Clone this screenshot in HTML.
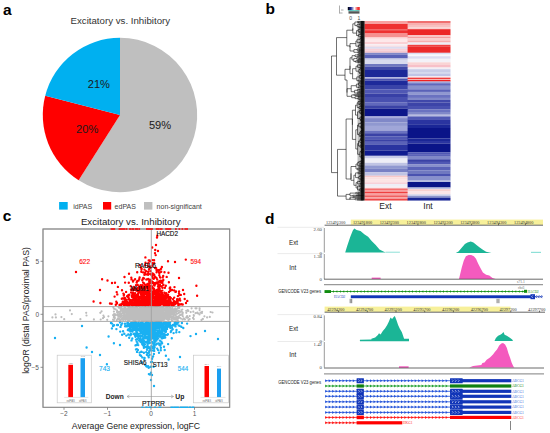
<!DOCTYPE html>
<html><head><meta charset="utf-8"><style>
html,body{margin:0;padding:0;background:#fff;}
svg{display:block;font-family:"Liberation Sans", sans-serif;}
</style></head><body>
<svg width="550" height="433" viewBox="0 0 550 433">
<rect width="550" height="433" fill="#fff"/>
<path d="M120.0,115.0 L120.00,37.80 A77.2,77.2 0 1 1 78.63,180.18 Z" fill="#bfbfbf"/>
<path d="M120.0,115.0 L78.63,180.18 A77.2,77.2 0 0 1 45.23,95.80 Z" fill="#ff0000"/>
<path d="M120.0,115.0 L45.23,95.80 A77.2,77.2 0 0 1 120.00,37.80 Z" fill="#00b0f0"/>
<text x="120.3" y="24.2" font-size="9.7" fill="#333" text-anchor="middle">Excitatory vs. Inhibitory</text>
<text x="98.9" y="88.3" font-size="11.1" fill="#1a1a1a" text-anchor="middle">21%</text>
<text x="87.2" y="133.4" font-size="11.1" fill="#1a1a1a" text-anchor="middle">20%</text>
<text x="160" y="129.2" font-size="11.1" fill="#1a1a1a" text-anchor="middle">59%</text>
<rect x="59.1" y="202" width="8.6" height="7.6" fill="#00b0f0"/>
<text x="73.2" y="208.6" font-size="7" fill="#404040">idPAS</text>
<rect x="103" y="202" width="8.2" height="7.6" fill="#ff0000"/>
<text x="114.6" y="208.6" font-size="7" fill="#404040">edPAS</text>
<rect x="144" y="202" width="8.4" height="7.6" fill="#bfbfbf"/>
<text x="156.6" y="208.6" font-size="7" fill="#404040">non-significant</text>
<rect x="364.5" y="21.0" width="43.69999999999999" height="3.05" fill="#f8a0a0"/>
<rect x="364.5" y="24.0" width="43.69999999999999" height="5.25" fill="#ee3030"/>
<rect x="364.5" y="29.2" width="43.69999999999999" height="1.85" fill="#f05050"/>
<rect x="364.5" y="31.0" width="43.69999999999999" height="2.55" fill="#ee3030"/>
<rect x="364.5" y="33.5" width="43.69999999999999" height="3.55" fill="#f59090"/>
<rect x="364.5" y="37.0" width="43.69999999999999" height="1.75" fill="#fcd0d0"/>
<rect x="364.5" y="38.7" width="43.69999999999999" height="3.35" fill="#fde8ea"/>
<rect x="364.5" y="42.0" width="43.69999999999999" height="2.05" fill="#fbd0d4"/>
<rect x="364.5" y="44.0" width="43.69999999999999" height="1.65" fill="#f8f0f4"/>
<rect x="364.5" y="45.6" width="43.69999999999999" height="1.15" fill="#fad8dc"/>
<rect x="364.5" y="46.7" width="43.69999999999999" height="2.15" fill="#dcdcf0"/>
<rect x="364.5" y="48.8" width="43.69999999999999" height="1.75" fill="#f8d0d8"/>
<rect x="364.5" y="50.5" width="43.69999999999999" height="2.35" fill="#f4c8d0"/>
<rect x="364.5" y="52.8" width="43.69999999999999" height="1.75" fill="#8088c8"/>
<rect x="364.5" y="54.5" width="43.69999999999999" height="3.55" fill="#5a62b8"/>
<rect x="364.5" y="58.0" width="43.69999999999999" height="1.75" fill="#b8bce0"/>
<rect x="364.5" y="59.7" width="43.69999999999999" height="4.35" fill="#d8daee"/>
<rect x="364.5" y="64.0" width="43.69999999999999" height="2.65" fill="#7078c0"/>
<rect x="364.5" y="66.6" width="43.69999999999999" height="2.65" fill="#4048a8"/>
<rect x="364.5" y="69.2" width="43.69999999999999" height="8.05" fill="#1c2898"/>
<rect x="364.5" y="77.2" width="43.69999999999999" height="1.45" fill="#b0b4e0"/>
<rect x="364.5" y="78.6" width="43.69999999999999" height="2.05" fill="#4a52b0"/>
<rect x="364.5" y="80.6" width="43.69999999999999" height="4.45" fill="#1e2a9a"/>
<rect x="364.5" y="85.0" width="43.69999999999999" height="4.35" fill="#3a44a8"/>
<rect x="364.5" y="89.3" width="43.69999999999999" height="4.35" fill="#5058b4"/>
<rect x="364.5" y="93.6" width="43.69999999999999" height="3.45" fill="#3840a6"/>
<rect x="364.5" y="97.0" width="43.69999999999999" height="5.65" fill="#4850b0"/>
<rect x="364.5" y="102.6" width="43.69999999999999" height="2.65" fill="#6068bc"/>
<rect x="364.5" y="105.2" width="43.69999999999999" height="3.45" fill="#3a42a6"/>
<rect x="364.5" y="108.6" width="43.69999999999999" height="7.85" fill="#0c1689"/>
<rect x="364.5" y="116.4" width="43.69999999999999" height="1.75" fill="#a8acdc"/>
<rect x="364.5" y="118.1" width="43.69999999999999" height="4.45" fill="#8088c8"/>
<rect x="364.5" y="122.5" width="43.69999999999999" height="3.45" fill="#9098d0"/>
<rect x="364.5" y="125.9" width="43.69999999999999" height="4.75" fill="#a0a6d8"/>
<rect x="364.5" y="130.6" width="43.69999999999999" height="2.65" fill="#6a72c0"/>
<rect x="364.5" y="133.2" width="43.69999999999999" height="3.45" fill="#3a42a6"/>
<rect x="364.5" y="136.6" width="43.69999999999999" height="2.65" fill="#5058b4"/>
<rect x="364.5" y="139.2" width="43.69999999999999" height="2.65" fill="#3a42a6"/>
<rect x="364.5" y="141.8" width="43.69999999999999" height="2.65" fill="#5a62b8"/>
<rect x="364.5" y="144.4" width="43.69999999999999" height="6.15" fill="#2a34a0"/>
<rect x="364.5" y="150.5" width="43.69999999999999" height="5.35" fill="#101c90"/>
<rect x="364.5" y="155.8" width="43.69999999999999" height="2.75" fill="#c8cce8"/>
<rect x="364.5" y="158.5" width="43.69999999999999" height="4.35" fill="#eeeef6"/>
<rect x="364.5" y="162.8" width="43.69999999999999" height="2.65" fill="#c0c4e4"/>
<rect x="364.5" y="165.4" width="43.69999999999999" height="3.45" fill="#9098d0"/>
<rect x="364.5" y="168.8" width="43.69999999999999" height="3.55" fill="#7880c4"/>
<rect x="364.5" y="172.3" width="43.69999999999999" height="3.45" fill="#c0c4e4"/>
<rect x="364.5" y="175.7" width="43.69999999999999" height="1.45" fill="#f8c8c8"/>
<rect x="364.5" y="177.1" width="43.69999999999999" height="2.45" fill="#fae0e0"/>
<rect x="364.5" y="179.5" width="43.69999999999999" height="2.85" fill="#fce4e4"/>
<rect x="364.5" y="182.3" width="43.69999999999999" height="1.75" fill="#f8d0d8"/>
<rect x="364.5" y="184.0" width="43.69999999999999" height="2.65" fill="#eeeef6"/>
<rect x="364.5" y="186.6" width="43.69999999999999" height="1.85" fill="#f8e8ec"/>
<rect x="364.5" y="188.4" width="43.69999999999999" height="1.65" fill="#f47070"/>
<rect x="364.5" y="190.0" width="43.69999999999999" height="1.85" fill="#f8a0a0"/>
<rect x="364.5" y="191.8" width="43.69999999999999" height="1.75" fill="#ee4040"/>
<rect x="364.5" y="193.5" width="43.69999999999999" height="1.85" fill="#f8a0a0"/>
<rect x="364.5" y="195.3" width="43.69999999999999" height="1.75" fill="#f06060"/>
<rect x="364.5" y="197.0" width="43.69999999999999" height="1.75" fill="#f8a8a8"/>
<rect x="364.5" y="198.7" width="43.69999999999999" height="1.85" fill="#ee4848"/>
<rect x="407.6" y="21.0" width="42.89999999999998" height="2.05" fill="#f07070"/>
<rect x="407.6" y="23.0" width="42.89999999999998" height="2.05" fill="#f8b0b0"/>
<rect x="407.6" y="25.0" width="42.89999999999998" height="2.55" fill="#f8c0c0"/>
<rect x="407.6" y="27.5" width="42.89999999999998" height="1.75" fill="#fad0d0"/>
<rect x="407.6" y="29.2" width="42.89999999999998" height="6.15" fill="#ec2828"/>
<rect x="407.6" y="35.3" width="42.89999999999998" height="1.35" fill="#fad0d0"/>
<rect x="407.6" y="36.6" width="42.89999999999998" height="1.85" fill="#f4a0a0"/>
<rect x="407.6" y="38.4" width="42.89999999999998" height="2.15" fill="#fbd0d0"/>
<rect x="407.6" y="40.5" width="42.89999999999998" height="2.05" fill="#f6b0b0"/>
<rect x="407.6" y="42.5" width="42.89999999999998" height="2.35" fill="#eeeef6"/>
<rect x="407.6" y="44.8" width="42.89999999999998" height="1.95" fill="#f04040"/>
<rect x="407.6" y="46.7" width="42.89999999999998" height="6.15" fill="#ec2a2a"/>
<rect x="407.6" y="52.8" width="42.89999999999998" height="1.75" fill="#dcdcf0"/>
<rect x="407.6" y="54.5" width="42.89999999999998" height="1.75" fill="#f8f8fc"/>
<rect x="407.6" y="56.2" width="42.89999999999998" height="2.65" fill="#dcdcf0"/>
<rect x="407.6" y="58.8" width="42.89999999999998" height="3.55" fill="#f4f2f8"/>
<rect x="407.6" y="62.3" width="42.89999999999998" height="2.65" fill="#fad4d4"/>
<rect x="407.6" y="64.9" width="42.89999999999998" height="2.65" fill="#f8c0c8"/>
<rect x="407.6" y="67.5" width="42.89999999999998" height="1.75" fill="#f4eef4"/>
<rect x="407.6" y="69.2" width="42.89999999999998" height="3.45" fill="#c8cce8"/>
<rect x="407.6" y="72.6" width="42.89999999999998" height="1.15" fill="#d0d4ec"/>
<rect x="407.6" y="73.7" width="42.89999999999998" height="2.65" fill="#c0c4e6"/>
<rect x="407.6" y="76.3" width="42.89999999999998" height="1.45" fill="#f8e8ee"/>
<rect x="407.6" y="77.7" width="42.89999999999998" height="1.25" fill="#f02020"/>
<rect x="407.6" y="78.9" width="42.89999999999998" height="0.95" fill="#f8d8d8"/>
<rect x="407.6" y="79.8" width="42.89999999999998" height="1.75" fill="#f02020"/>
<rect x="407.6" y="81.5" width="42.89999999999998" height="1.75" fill="#a0a6d8"/>
<rect x="407.6" y="83.2" width="42.89999999999998" height="2.65" fill="#6068bc"/>
<rect x="407.6" y="85.8" width="42.89999999999998" height="3.55" fill="#8890cc"/>
<rect x="407.6" y="89.3" width="42.89999999999998" height="2.65" fill="#5a62b8"/>
<rect x="407.6" y="91.9" width="42.89999999999998" height="2.65" fill="#9098d0"/>
<rect x="407.6" y="94.5" width="42.89999999999998" height="3.45" fill="#6a72c0"/>
<rect x="407.6" y="97.9" width="42.89999999999998" height="2.15" fill="#8088c8"/>
<rect x="407.6" y="100.0" width="42.89999999999998" height="2.65" fill="#4048aa"/>
<rect x="407.6" y="102.6" width="42.89999999999998" height="3.45" fill="#3c44a8"/>
<rect x="407.6" y="106.0" width="42.89999999999998" height="3.55" fill="#4850b0"/>
<rect x="407.6" y="109.5" width="42.89999999999998" height="2.55" fill="#6a72c0"/>
<rect x="407.6" y="112.0" width="42.89999999999998" height="2.75" fill="#8088c8"/>
<rect x="407.6" y="114.7" width="42.89999999999998" height="1.75" fill="#b8bce0"/>
<rect x="407.6" y="116.4" width="42.89999999999998" height="3.55" fill="#5058b4"/>
<rect x="407.6" y="119.9" width="42.89999999999998" height="4.35" fill="#2a34a0"/>
<rect x="407.6" y="124.2" width="42.89999999999998" height="3.85" fill="#1a2696"/>
<rect x="407.6" y="128.0" width="42.89999999999998" height="10.45" fill="#0a1488"/>
<rect x="407.6" y="138.4" width="42.89999999999998" height="2.65" fill="#1a2696"/>
<rect x="407.6" y="141.0" width="42.89999999999998" height="2.55" fill="#2a34a0"/>
<rect x="407.6" y="143.5" width="42.89999999999998" height="8.75" fill="#0a1488"/>
<rect x="407.6" y="152.2" width="42.89999999999998" height="2.65" fill="#5058b4"/>
<rect x="407.6" y="154.8" width="42.89999999999998" height="1.95" fill="#5a62b8"/>
<rect x="407.6" y="156.7" width="42.89999999999998" height="2.65" fill="#8088c8"/>
<rect x="407.6" y="159.3" width="42.89999999999998" height="2.65" fill="#3a42a6"/>
<rect x="407.6" y="161.9" width="42.89999999999998" height="2.65" fill="#5058b4"/>
<rect x="407.6" y="164.5" width="42.89999999999998" height="2.55" fill="#8890cc"/>
<rect x="407.6" y="167.0" width="42.89999999999998" height="3.55" fill="#5a62b8"/>
<rect x="407.6" y="170.5" width="42.89999999999998" height="3.55" fill="#7078c0"/>
<rect x="407.6" y="174.0" width="42.89999999999998" height="2.65" fill="#4a52b0"/>
<rect x="407.6" y="176.6" width="42.89999999999998" height="4.05" fill="#8890cc"/>
<rect x="407.6" y="180.6" width="42.89999999999998" height="1.45" fill="#b8bce0"/>
<rect x="407.6" y="182.0" width="42.89999999999998" height="5.55" fill="#0a1488"/>
<rect x="407.6" y="187.5" width="42.89999999999998" height="1.75" fill="#c0c4e4"/>
<rect x="407.6" y="189.2" width="42.89999999999998" height="1.85" fill="#f8d0d0"/>
<rect x="407.6" y="191.0" width="42.89999999999998" height="3.45" fill="#fae4e8"/>
<rect x="407.6" y="194.4" width="42.89999999999998" height="1.75" fill="#c8cce8"/>
<rect x="407.6" y="196.1" width="42.89999999999998" height="1.85" fill="#8088c8"/>
<rect x="407.6" y="197.9" width="42.89999999999998" height="2.65" fill="#1a2696"/>
<text x="385.5" y="209" font-size="8.5" fill="#222" text-anchor="middle">Ext</text>
<text x="428" y="209" font-size="8.5" fill="#222" text-anchor="middle">Int</text>
<defs><linearGradient id="ck" x1="0" x2="1"><stop offset="0" stop-color="#000"/><stop offset="0.25" stop-color="#1a2696"/><stop offset="0.55" stop-color="#fff"/><stop offset="0.85" stop-color="#ee3030"/><stop offset="1" stop-color="#ee3030"/></linearGradient></defs>
<rect x="347.8" y="7" width="12" height="3.3" fill="url(#ck)"/>
<rect x="348.5" y="10.3" width="11" height="1" fill="#30c0b0"/>
<rect x="348.5" y="11.3" width="11" height="2.3" fill="#555"/>
<text x="350.6" y="20" font-size="5" fill="#444" text-anchor="middle">0</text>
<text x="359" y="20" font-size="5" fill="#444" text-anchor="middle">1</text>
<path d="M339.5,5.5 v8 M339.5,13 h3 M341,10 h2.5" stroke="#999" stroke-width="0.8" fill="none"/>
<path d="M331.5,56.0L331.5,172.6M331.5,56.0L336.5,56.0M331.5,172.6L337.5,172.6M336.5,37.6L336.5,75.2M336.5,37.6L346.8,37.6M336.5,75.2L345.0,75.2M346.8,30.2L346.8,45.9M346.8,30.2L352.8,30.2M346.8,45.9L350.0,45.9M359.4,21.4L363.5,21.4M359.4,22.2L363.5,22.2M359.4,23.0L363.5,23.0M358.5,22.2L358.5,23.0M358.5,22.2L359.4,22.2M358.5,23.0L359.4,23.0M357.6,21.4L357.6,22.6M357.6,21.4L359.4,21.4M357.6,22.6L358.5,22.6M361.0,23.9L363.5,23.9M361.9,24.7L363.5,24.7M362.3,25.4L363.5,25.4M361.3,24.7L361.3,25.4M361.3,24.7L361.9,24.7M361.3,25.4L362.3,25.4M359.7,23.9L359.7,25.0M359.7,23.9L361.0,23.9M359.7,25.0L361.3,25.0M360.4,26.1L363.5,26.1M360.3,26.8L363.5,26.8M361.1,27.5L363.5,27.5M361.5,28.1L363.5,28.1M360.5,27.5L360.5,28.1M360.5,27.5L361.1,27.5M360.5,28.1L361.5,28.1M359.5,26.8L359.5,27.8M359.5,26.8L360.3,26.8M359.5,27.8L360.5,27.8M358.3,26.1L358.3,27.3M358.3,26.1L360.4,26.1M358.3,27.3L359.5,27.3M357.1,24.4L357.1,26.7M357.1,24.4L359.7,24.4M357.1,26.7L358.3,26.7M354.9,22.0L354.9,25.6M354.9,22.0L357.6,22.0M354.9,25.6L357.1,25.6M360.4,28.8L363.5,28.8M360.2,29.7L363.5,29.7M359.2,28.8L359.2,29.7M359.2,28.8L360.4,28.8M359.2,29.7L360.2,29.7M362.2,30.4L363.5,30.4M362.4,31.0L363.5,31.0M361.6,30.4L361.6,31.0M361.6,30.4L362.2,30.4M361.6,31.0L362.4,31.0M361.2,31.6L363.5,31.6M360.6,30.7L360.6,31.6M360.6,30.7L361.6,30.7M360.6,31.6L361.2,31.6M361.1,32.5L363.5,32.5M361.8,33.3L363.5,33.3M360.4,32.5L360.4,33.3M360.4,32.5L361.1,32.5M360.4,33.3L361.8,33.3M359.4,31.1L359.4,32.9M359.4,31.1L360.6,31.1M359.4,32.9L360.4,32.9M358.3,29.2L358.3,32.0M358.3,29.2L359.2,29.2M358.3,32.0L359.4,32.0M361.1,34.0L363.5,34.0M360.6,34.7L363.5,34.7M360.0,34.0L360.0,34.7M360.0,34.0L361.1,34.0M360.0,34.7L360.6,34.7M362.1,35.7L363.5,35.7M362.3,36.5L363.5,36.5M361.6,35.7L361.6,36.5M361.6,35.7L362.1,35.7M361.6,36.5L362.3,36.5M362.1,37.1L363.5,37.1M362.1,37.7L363.5,37.7M361.5,37.1L361.5,37.7M361.5,37.1L362.1,37.1M361.5,37.7L362.1,37.7M360.5,36.1L360.5,37.4M360.5,36.1L361.6,36.1M360.5,37.4L361.5,37.4M358.7,34.3L358.7,36.8M358.7,34.3L360.0,34.3M358.7,36.8L360.5,36.8M356.5,30.6L356.5,35.5M356.5,30.6L358.3,30.6M356.5,35.5L358.7,35.5M352.8,23.8L352.8,33.1M352.8,23.8L354.9,23.8M352.8,33.1L356.5,33.1M361.7,38.2L363.5,38.2M361.4,38.9L363.5,38.9M360.9,38.2L360.9,38.9M360.9,38.2L361.7,38.2M360.9,38.9L361.4,38.9M361.6,39.7L363.5,39.7M362.4,40.2L363.5,40.2M362.5,40.8L363.5,40.8M362.1,40.2L362.1,40.8M362.1,40.2L362.4,40.2M362.1,40.8L362.5,40.8M361.2,39.7L361.2,40.5M361.2,39.7L361.6,39.7M361.2,40.5L362.1,40.5M360.0,38.5L360.0,40.1M360.0,38.5L360.9,38.5M360.0,40.1L361.2,40.1M361.6,41.6L363.5,41.6M361.6,42.5L363.5,42.5M360.3,41.6L360.3,42.5M360.3,41.6L361.6,41.6M360.3,42.5L361.6,42.5M360.8,43.3L363.5,43.3M359.7,42.1L359.7,43.3M359.7,42.1L360.3,42.1M359.7,43.3L360.8,43.3M357.1,39.3L357.1,42.7M357.1,39.3L360.0,39.3M357.1,42.7L359.7,42.7M361.8,44.0L363.5,44.0M361.8,44.6L363.5,44.6M361.3,44.0L361.3,44.6M361.3,44.0L361.8,44.0M361.3,44.6L361.8,44.6M362.0,45.3L363.5,45.3M362.1,46.1L363.5,46.1M361.4,45.3L361.4,46.1M361.4,45.3L362.0,45.3M361.4,46.1L362.1,46.1M359.8,44.3L359.8,45.7M359.8,44.3L361.3,44.3M359.8,45.7L361.4,45.7M360.5,46.9L363.5,46.9M360.9,47.7L363.5,47.7M360.0,46.9L360.0,47.7M360.0,46.9L360.5,46.9M360.0,47.7L360.9,47.7M358.6,45.0L358.6,47.3M358.6,45.0L359.8,45.0M358.6,47.3L360.0,47.3M355.9,41.0L355.9,46.2M355.9,41.0L357.1,41.0M355.9,46.2L358.6,46.2M359.7,48.6L363.5,48.6M360.9,49.4L363.5,49.4M359.0,48.6L359.0,49.4M359.0,48.6L359.7,48.6M359.0,49.4L360.9,49.4M361.0,50.0L363.5,50.0M360.9,50.6L363.5,50.6M359.2,50.0L359.2,50.6M359.2,50.0L361.0,50.0M359.2,50.6L360.9,50.6M357.0,49.0L357.0,50.3M357.0,49.0L359.0,49.0M357.0,50.3L359.2,50.3M360.2,51.2L363.5,51.2M360.2,51.9L363.5,51.9M359.6,51.2L359.6,51.9M359.6,51.2L360.2,51.2M359.6,51.9L360.2,51.9M360.0,52.6L363.5,52.6M360.2,53.5L363.5,53.5M359.1,52.6L359.1,53.5M359.1,52.6L360.0,52.6M359.1,53.5L360.2,53.5M358.1,51.6L358.1,53.0M358.1,51.6L359.6,51.6M358.1,53.0L359.1,53.0M353.9,49.6L353.9,52.3M353.9,49.6L357.0,49.6M353.9,52.3L358.1,52.3M350.0,43.6L350.0,51.0M350.0,43.6L355.9,43.6M350.0,51.0L353.9,51.0M352.8,30.2L352.8,28.4M350.0,45.9L350.0,47.3M345.0,69.3L345.0,80.0M345.0,75.2L345.0,75.2M345.0,69.3L350.0,69.3M345.0,80.0L347.0,80.0M359.3,54.4L363.5,54.4M361.0,55.0L363.5,55.0M361.2,55.6L363.5,55.6M359.3,55.0L359.3,55.6M359.3,55.0L361.0,55.0M359.3,55.6L361.2,55.6M357.8,54.4L357.8,55.3M357.8,54.4L359.3,54.4M357.8,55.3L359.3,55.3M356.7,56.5L363.5,56.5M355.0,54.9L355.0,56.5M355.0,54.9L357.8,54.9M355.0,56.5L356.7,56.5M358.4,57.6L363.5,57.6M360.6,58.5L363.5,58.5M360.1,59.1L363.5,59.1M359.3,58.5L359.3,59.1M359.3,58.5L360.6,58.5M359.3,59.1L360.1,59.1M359.1,59.6L363.5,59.6M358.3,58.8L358.3,59.6M358.3,58.8L359.3,58.8M358.3,59.6L359.1,59.6M356.7,57.6L356.7,59.2M356.7,57.6L358.4,57.6M356.7,59.2L358.3,59.2M359.5,60.5L363.5,60.5M359.2,61.3L363.5,61.3M356.8,60.5L356.8,61.3M356.8,60.5L359.5,60.5M356.8,61.3L359.2,61.3M359.4,61.8L363.5,61.8M359.1,62.6L363.5,62.6M358.0,61.8L358.0,62.6M358.0,61.8L359.4,61.8M358.0,62.6L359.1,62.6M355.5,60.9L355.5,62.2M355.5,60.9L356.8,60.9M355.5,62.2L358.0,62.2M353.8,58.4L353.8,61.5M353.8,58.4L356.7,58.4M353.8,61.5L355.5,61.5M352.0,55.7L352.0,59.9M352.0,55.7L355.0,55.7M352.0,59.9L353.8,59.9M362.3,63.2L363.5,63.2M362.2,63.7L363.5,63.7M361.9,63.2L361.9,63.7M361.9,63.2L362.3,63.2M361.9,63.7L362.2,63.7M361.7,64.6L363.5,64.6M361.3,63.4L361.3,64.6M361.3,63.4L361.9,63.4M361.3,64.6L361.7,64.6M362.0,65.5L363.5,65.5M361.5,66.2L363.5,66.2M360.8,65.5L360.8,66.2M360.8,65.5L362.0,65.5M360.8,66.2L361.5,66.2M360.0,64.0L360.0,65.9M360.0,64.0L361.3,64.0M360.0,65.9L360.8,65.9M361.5,67.0L363.5,67.0M361.5,67.7L363.5,67.7M359.9,67.0L359.9,67.7M359.9,67.0L361.5,67.0M359.9,67.7L361.5,67.7M357.6,64.9L357.6,67.4M357.6,64.9L360.0,64.9M357.6,67.4L359.9,67.4M361.8,68.4L363.5,68.4M361.5,68.9L363.5,68.9M360.7,68.4L360.7,68.9M360.7,68.4L361.8,68.4M360.7,68.9L361.5,68.9M362.1,69.6L363.5,69.6M361.6,70.5L363.5,70.5M361.1,69.6L361.1,70.5M361.1,69.6L362.1,69.6M361.1,70.5L361.6,70.5M359.9,68.6L359.9,70.1M359.9,68.6L360.7,68.6M359.9,70.1L361.1,70.1M362.4,71.3L363.5,71.3M362.6,71.9L363.5,71.9M362.1,71.3L362.1,71.9M362.1,71.3L362.4,71.3M362.1,71.9L362.6,71.9M361.9,72.6L363.5,72.6M361.4,71.6L361.4,72.6M361.4,71.6L362.1,71.6M361.4,72.6L361.9,72.6M361.9,73.5L363.5,73.5M361.9,74.3L363.5,74.3M361.3,73.5L361.3,74.3M361.3,73.5L361.9,73.5M361.3,74.3L361.9,74.3M359.9,72.1L359.9,73.9M359.9,72.1L361.4,72.1M359.9,73.9L361.3,73.9M359.0,69.3L359.0,73.0M359.0,69.3L359.9,69.3M359.0,73.0L359.9,73.0M356.0,66.2L356.0,71.2M356.0,66.2L357.6,66.2M356.0,71.2L359.0,71.2M361.7,74.9L363.5,74.9M361.5,75.5L363.5,75.5M360.8,74.9L360.8,75.5M360.8,74.9L361.7,74.9M360.8,75.5L361.5,75.5M361.4,76.0L363.5,76.0M360.1,75.2L360.1,76.0M360.1,75.2L360.8,75.2M360.1,76.0L361.4,76.0M362.6,76.7L363.5,76.7M362.7,77.3L363.5,77.3M362.2,76.7L362.2,77.3M362.2,76.7L362.6,76.7M362.2,77.3L362.7,77.3M362.1,77.8L363.5,77.8M361.5,77.0L361.5,77.8M361.5,77.0L362.2,77.0M361.5,77.8L362.1,77.8M361.9,78.5L363.5,78.5M361.9,79.3L363.5,79.3M361.4,78.5L361.4,79.3M361.4,78.5L361.9,78.5M361.4,79.3L361.9,79.3M361.1,77.4L361.1,78.9M361.1,77.4L361.5,77.4M361.1,78.9L361.4,78.9M359.3,75.6L359.3,78.2M359.3,75.6L360.1,75.6M359.3,78.2L361.1,78.2M359.3,80.1L363.5,80.1M360.9,80.9L363.5,80.9M360.6,81.6L363.5,81.6M359.9,80.9L359.9,81.6M359.9,80.9L360.9,80.9M359.9,81.6L360.6,81.6M358.2,80.1L358.2,81.2M358.2,80.1L359.3,80.1M358.2,81.2L359.9,81.2M356.8,76.9L356.8,80.7M356.8,76.9L359.3,76.9M356.8,80.7L358.2,80.7M352.6,68.7L352.6,78.8M352.6,68.7L356.0,68.7M352.6,78.8L356.8,78.8M350.0,57.8L350.0,73.7M350.0,57.8L352.0,57.8M350.0,73.7L352.6,73.7M350.0,69.3L350.0,65.8M359.9,82.4L363.5,82.4M361.7,83.1L363.5,83.1M361.9,83.7L363.5,83.7M360.9,83.1L360.9,83.7M360.9,83.1L361.7,83.1M360.9,83.7L361.9,83.7M359.3,82.4L359.3,83.4M359.3,82.4L359.9,82.4M359.3,83.4L360.9,83.4M360.8,84.7L363.5,84.7M361.0,85.8L363.5,85.8M359.9,84.7L359.9,85.8M359.9,84.7L360.8,84.7M359.9,85.8L361.0,85.8M358.5,82.9L358.5,85.2M358.5,82.9L359.3,82.9M358.5,85.2L359.9,85.2M361.2,86.5L363.5,86.5M361.2,87.1L363.5,87.1M360.5,86.5L360.5,87.1M360.5,86.5L361.2,86.5M360.5,87.1L361.2,87.1M359.5,87.9L363.5,87.9M358.6,86.8L358.6,87.9M358.6,86.8L360.5,86.8M358.6,87.9L359.5,87.9M356.4,84.1L356.4,87.3M356.4,84.1L358.5,84.1M356.4,87.3L358.6,87.3M361.7,88.7L363.5,88.7M361.8,89.3L363.5,89.3M361.0,88.7L361.0,89.3M361.0,88.7L361.7,88.7M361.0,89.3L361.8,89.3M361.0,90.0L363.5,90.0M359.9,89.0L359.9,90.0M359.9,89.0L361.0,89.0M359.9,90.0L361.0,90.0M361.0,90.8L363.5,90.8M360.7,91.4L363.5,91.4M359.1,90.8L359.1,91.4M359.1,90.8L361.0,90.8M359.1,91.4L360.7,91.4M357.3,89.5L357.3,91.1M357.3,89.5L359.9,89.5M357.3,91.1L359.1,91.1M361.6,92.1L363.5,92.1M361.4,92.9L363.5,92.9M360.1,92.1L360.1,92.9M360.1,92.1L361.6,92.1M360.1,92.9L361.4,92.9M358.8,93.6L363.5,93.6M357.4,92.5L357.4,93.6M357.4,92.5L360.1,92.5M357.4,93.6L358.8,93.6M354.6,90.3L354.6,93.0M354.6,90.3L357.3,90.3M354.6,93.0L357.4,93.0M351.2,85.7L351.2,91.7M351.2,85.7L356.4,85.7M351.2,91.7L354.6,91.7M356.1,94.3L363.5,94.3M358.6,95.1L363.5,95.1M358.9,95.8L363.5,95.8M355.6,95.1L355.6,95.8M355.6,95.1L358.6,95.1M355.6,95.8L358.9,95.8M353.9,94.3L353.9,95.4M353.9,94.3L356.1,94.3M353.9,95.4L355.6,95.4M360.4,96.4L363.5,96.4M360.5,97.1L363.5,97.1M358.1,96.4L358.1,97.1M358.1,96.4L360.4,96.4M358.1,97.1L360.5,97.1M360.4,98.0L363.5,98.0M361.3,98.9L363.5,98.9M361.1,99.6L363.5,99.6M359.5,98.9L359.5,99.6M359.5,98.9L361.3,98.9M359.5,99.6L361.1,99.6M358.0,98.0L358.0,99.2M358.0,98.0L360.4,98.0M358.0,99.2L359.5,99.2M355.1,96.7L355.1,98.6M355.1,96.7L358.1,96.7M355.1,98.6L358.0,98.6M351.7,94.9L351.7,97.7M351.7,94.9L353.9,94.9M351.7,97.7L355.1,97.7M347.0,88.7L347.0,96.3M347.0,88.7L351.2,88.7M347.0,96.3L351.7,96.3M347.0,80.0L347.0,92.5M337.5,149.4L337.5,196.1M337.5,149.4L346.1,149.4M337.5,196.1L346.1,196.1M346.1,119.0L346.1,179.0M346.1,119.0L352.4,119.0M346.1,179.0L351.0,179.0M361.6,100.5L363.5,100.5M361.7,101.2L363.5,101.2M360.4,100.5L360.4,101.2M360.4,100.5L361.6,100.5M360.4,101.2L361.7,101.2M360.6,101.7L363.5,101.7M360.4,102.3L363.5,102.3M359.8,101.7L359.8,102.3M359.8,101.7L360.6,101.7M359.8,102.3L360.4,102.3M359.0,100.9L359.0,102.0M359.0,100.9L360.4,100.9M359.0,102.0L359.8,102.0M361.7,103.1L363.5,103.1M361.6,104.0L363.5,104.0M360.4,103.1L360.4,104.0M360.4,103.1L361.7,103.1M360.4,104.0L361.6,104.0M360.9,104.7L363.5,104.7M361.6,105.3L363.5,105.3M360.2,104.7L360.2,105.3M360.2,104.7L360.9,104.7M360.2,105.3L361.6,105.3M359.5,103.5L359.5,105.0M359.5,103.5L360.4,103.5M359.5,105.0L360.2,105.0M358.2,101.4L358.2,104.3M358.2,101.4L359.0,101.4M358.2,104.3L359.5,104.3M361.7,105.9L363.5,105.9M362.4,106.5L363.5,106.5M362.2,107.2L363.5,107.2M361.5,106.5L361.5,107.2M361.5,106.5L362.4,106.5M361.5,107.2L362.2,107.2M360.7,105.9L360.7,106.9M360.7,105.9L361.7,105.9M360.7,106.9L361.5,106.9M361.8,107.9L363.5,107.9M361.4,108.4L363.5,108.4M360.6,107.9L360.6,108.4M360.6,107.9L361.8,107.9M360.6,108.4L361.4,108.4M361.4,109.2L363.5,109.2M359.9,108.2L359.9,109.2M359.9,108.2L360.6,108.2M359.9,109.2L361.4,109.2M359.2,106.4L359.2,108.7M359.2,106.4L360.7,106.4M359.2,108.7L359.9,108.7M357.2,102.8L357.2,107.5M357.2,102.8L358.2,102.8M357.2,107.5L359.2,107.5M360.8,110.0L363.5,110.0M361.4,110.6L363.5,110.6M361.5,111.3L363.5,111.3M360.8,110.6L360.8,111.3M360.8,110.6L361.4,110.6M360.8,111.3L361.5,111.3M360.2,110.0L360.2,110.9M360.2,110.0L360.8,110.0M360.2,110.9L360.8,110.9M362.1,112.1L363.5,112.1M362.2,112.7L363.5,112.7M361.7,112.1L361.7,112.7M361.7,112.1L362.1,112.1M361.7,112.7L362.2,112.7M361.8,113.3L363.5,113.3M362.2,114.0L363.5,114.0M362.0,114.6L363.5,114.6M361.7,114.0L361.7,114.6M361.7,114.0L362.2,114.0M361.7,114.6L362.0,114.6M361.3,113.3L361.3,114.3M361.3,113.3L361.8,113.3M361.3,114.3L361.7,114.3M360.6,112.4L360.6,113.8M360.6,112.4L361.7,112.4M360.6,113.8L361.3,113.8M359.4,110.5L359.4,113.1M359.4,110.5L360.2,110.5M359.4,113.1L360.6,113.1M362.9,115.3L363.5,115.3M362.7,116.0L363.5,116.0M362.5,115.3L362.5,116.0M362.5,115.3L362.9,115.3M362.5,116.0L362.7,116.0M362.5,116.7L363.5,116.7M362.1,115.6L362.1,116.7M362.1,115.6L362.5,115.6M362.1,116.7L362.5,116.7M362.6,117.5L363.5,117.5M362.6,118.1L363.5,118.1M362.1,117.5L362.1,118.1M362.1,117.5L362.6,117.5M362.1,118.1L362.6,118.1M361.5,116.1L361.5,117.8M361.5,116.1L362.1,116.1M361.5,117.8L362.1,117.8M361.8,118.6L363.5,118.6M362.2,119.4L363.5,119.4M361.4,118.6L361.4,119.4M361.4,118.6L361.8,118.6M361.4,119.4L362.2,119.4M361.6,120.3L363.5,120.3M362.4,121.1L363.5,121.1M362.2,121.7L363.5,121.7M361.6,121.1L361.6,121.7M361.6,121.1L362.4,121.1M361.6,121.7L362.2,121.7M361.1,120.3L361.1,121.4M361.1,120.3L361.6,120.3M361.1,121.4L361.6,121.4M360.7,119.0L360.7,120.9M360.7,119.0L361.4,119.0M360.7,120.9L361.1,120.9M360.0,117.0L360.0,119.9M360.0,117.0L361.5,117.0M360.0,119.9L360.7,119.9M357.5,111.8L357.5,118.5M357.5,111.8L359.4,111.8M357.5,118.5L360.0,118.5M355.5,105.2L355.5,115.1M355.5,105.2L357.2,105.2M355.5,115.1L357.5,115.1M361.9,122.2L363.5,122.2M361.7,123.0L363.5,123.0M361.4,122.2L361.4,123.0M361.4,122.2L361.9,122.2M361.4,123.0L361.7,123.0M362.4,123.8L363.5,123.8M362.4,124.6L363.5,124.6M362.0,123.8L362.0,124.6M362.0,123.8L362.4,123.8M362.0,124.6L362.4,124.6M360.8,122.6L360.8,124.2M360.8,122.6L361.4,122.6M360.8,124.2L362.0,124.2M362.0,125.3L363.5,125.3M362.1,126.2L363.5,126.2M361.6,125.3L361.6,126.2M361.6,125.3L362.0,125.3M361.6,126.2L362.1,126.2M361.6,127.1L363.5,127.1M362.3,127.9L363.5,127.9M362.7,128.7L363.5,128.7M362.7,129.3L363.5,129.3M362.3,128.7L362.3,129.3M362.3,128.7L362.7,128.7M362.3,129.3L362.7,129.3M361.8,127.9L361.8,129.0M361.8,127.9L362.3,127.9M361.8,129.0L362.3,129.0M361.2,127.1L361.2,128.5M361.2,127.1L361.6,127.1M361.2,128.5L361.8,128.5M360.8,125.7L360.8,127.8M360.8,125.7L361.6,125.7M360.8,127.8L361.2,127.8M358.7,123.4L358.7,126.8M358.7,123.4L360.8,123.4M358.7,126.8L360.8,126.8M362.4,129.9L363.5,129.9M362.5,130.6L363.5,130.6M362.1,129.9L362.1,130.6M362.1,129.9L362.4,129.9M362.1,130.6L362.5,130.6M362.2,131.2L363.5,131.2M361.4,130.2L361.4,131.2M361.4,130.2L362.1,130.2M361.4,131.2L362.2,131.2M362.6,131.9L363.5,131.9M362.6,132.8L363.5,132.8M362.0,131.9L362.0,132.8M362.0,131.9L362.6,131.9M362.0,132.8L362.6,132.8M361.0,130.7L361.0,132.3M361.0,130.7L361.4,130.7M361.0,132.3L362.0,132.3M362.2,133.7L363.5,133.7M362.3,134.5L363.5,134.5M361.5,133.7L361.5,134.5M361.5,133.7L362.2,133.7M361.5,134.5L362.3,134.5M360.3,131.5L360.3,134.1M360.3,131.5L361.0,131.5M360.3,134.1L361.5,134.1M361.8,135.0L363.5,135.0M362.6,135.5L363.5,135.5M362.4,136.0L363.5,136.0M362.0,135.5L362.0,136.0M362.0,135.5L362.6,135.5M362.0,136.0L362.4,136.0M361.4,135.0L361.4,135.8M361.4,135.0L361.8,135.0M361.4,135.8L362.0,135.8M361.8,136.7L363.5,136.7M361.9,137.3L363.5,137.3M361.0,136.7L361.0,137.3M361.0,136.7L361.8,136.7M361.0,137.3L361.9,137.3M360.3,135.4L360.3,137.0M360.3,135.4L361.4,135.4M360.3,137.0L361.0,137.0M359.2,132.8L359.2,136.2M359.2,132.8L360.3,132.8M359.2,136.2L360.3,136.2M357.5,125.1L357.5,134.5M357.5,125.1L358.7,125.1M357.5,134.5L359.2,134.5M361.6,138.1L363.5,138.1M362.0,138.8L363.5,138.8M361.1,138.1L361.1,138.8M361.1,138.1L361.6,138.1M361.1,138.8L362.0,138.8M362.5,139.5L363.5,139.5M362.5,140.3L363.5,140.3M361.9,139.5L361.9,140.3M361.9,139.5L362.5,139.5M361.9,140.3L362.5,140.3M361.9,141.0L363.5,141.0M361.3,139.9L361.3,141.0M361.3,139.9L361.9,139.9M361.3,141.0L361.9,141.0M360.6,138.4L360.6,140.4M360.6,138.4L361.1,138.4M360.6,140.4L361.3,140.4M362.4,141.6L363.5,141.6M362.6,142.4L363.5,142.4M362.1,141.6L362.1,142.4M362.1,141.6L362.4,141.6M362.1,142.4L362.6,142.4M362.3,143.2L363.5,143.2M362.0,143.9L363.5,143.9M361.7,143.2L361.7,143.9M361.7,143.2L362.3,143.2M361.7,143.9L362.0,143.9M361.3,142.0L361.3,143.6M361.3,142.0L362.1,142.0M361.3,143.6L361.7,143.6M360.0,139.4L360.0,142.8M360.0,139.4L360.6,139.4M360.0,142.8L361.3,142.8M361.8,144.7L363.5,144.7M361.5,145.4L363.5,145.4M360.9,144.7L360.9,145.4M360.9,144.7L361.8,144.7M360.9,145.4L361.5,145.4M362.6,146.0L363.5,146.0M362.2,146.7L363.5,146.7M361.9,146.0L361.9,146.7M361.9,146.0L362.6,146.0M361.9,146.7L362.2,146.7M362.6,147.7L363.5,147.7M362.2,148.5L363.5,148.5M361.9,147.7L361.9,148.5M361.9,147.7L362.6,147.7M361.9,148.5L362.2,148.5M361.3,146.4L361.3,148.1M361.3,146.4L361.9,146.4M361.3,148.1L361.9,148.1M360.1,145.0L360.1,147.2M360.1,145.0L360.9,145.0M360.1,147.2L361.3,147.2M358.5,141.1L358.5,146.1M358.5,141.1L360.0,141.1M358.5,146.1L360.1,146.1M362.6,149.0L363.5,149.0M363.1,149.5L363.5,149.5M363.0,150.1L363.5,150.1M362.8,149.5L362.8,150.1M362.8,149.5L363.1,149.5M362.8,150.1L363.0,150.1M362.2,149.0L362.2,149.8M362.2,149.0L362.6,149.0M362.2,149.8L362.8,149.8M362.4,150.9L363.5,150.9M361.8,149.4L361.8,150.9M361.8,149.4L362.2,149.4M361.8,150.9L362.4,150.9M363.0,151.5L363.5,151.5M363.0,152.1L363.5,152.1M362.7,151.5L362.7,152.1M362.7,151.5L363.0,151.5M362.7,152.1L363.0,152.1M362.6,152.9L363.5,152.9M362.4,151.8L362.4,152.9M362.4,151.8L362.7,151.8M362.4,152.9L362.6,152.9M362.2,153.7L363.5,153.7M361.8,152.3L361.8,153.7M361.8,152.3L362.4,152.3M361.8,153.7L362.2,153.7M361.3,150.2L361.3,153.0M361.3,150.2L361.8,150.2M361.3,153.0L361.8,153.0M362.5,154.7L363.5,154.7M362.7,155.6L363.5,155.6M362.4,156.3L363.5,156.3M362.1,155.6L362.1,156.3M362.1,155.6L362.7,155.6M362.1,156.3L362.4,156.3M361.9,154.7L361.9,156.0M361.9,154.7L362.5,154.7M361.9,156.0L362.1,156.0M362.8,157.1L363.5,157.1M363.0,158.0L363.5,158.0M363.0,158.7L363.5,158.7M362.8,158.0L362.8,158.7M362.8,158.0L363.0,158.0M362.8,158.7L363.0,158.7M362.5,157.1L362.5,158.4M362.5,157.1L362.8,157.1M362.5,158.4L362.8,158.4M362.8,159.1L363.5,159.1M362.8,159.7L363.5,159.7M362.6,159.1L362.6,159.7M362.6,159.1L362.8,159.1M362.6,159.7L362.8,159.7M362.0,157.7L362.0,159.4M362.0,157.7L362.5,157.7M362.0,159.4L362.6,159.4M361.5,155.3L361.5,158.6M361.5,155.3L361.9,155.3M361.5,158.6L362.0,158.6M359.9,151.6L359.9,157.0M359.9,151.6L361.3,151.6M359.9,157.0L361.5,157.0M357.6,143.6L357.6,154.3M357.6,143.6L358.5,143.6M357.6,154.3L359.9,154.3M355.8,129.8L355.8,149.0M355.8,129.8L357.5,129.8M355.8,149.0L357.6,149.0M352.4,110.2L352.4,139.4M352.4,110.2L355.5,110.2M352.4,139.4L355.8,139.4M352.4,119.0L352.4,124.8M362.5,160.4L363.5,160.4M362.2,161.1L363.5,161.1M361.9,160.4L361.9,161.1M361.9,160.4L362.5,160.4M361.9,161.1L362.2,161.1M362.4,161.7L363.5,161.7M362.5,162.3L363.5,162.3M362.0,161.7L362.0,162.3M362.0,161.7L362.4,161.7M362.0,162.3L362.5,162.3M360.8,160.7L360.8,162.0M360.8,160.7L361.9,160.7M360.8,162.0L362.0,162.0M361.4,162.9L363.5,162.9M361.2,163.4L363.5,163.4M360.7,162.9L360.7,163.4M360.7,162.9L361.4,162.9M360.7,163.4L361.2,163.4M358.9,161.4L358.9,163.2M358.9,161.4L360.8,161.4M358.9,163.2L360.7,163.2M360.9,164.2L363.5,164.2M361.8,165.3L363.5,165.3M362.1,165.9L363.5,165.9M361.3,165.3L361.3,165.9M361.3,165.3L361.8,165.3M361.3,165.9L362.1,165.9M360.0,164.2L360.0,165.6M360.0,164.2L360.9,164.2M360.0,165.6L361.3,165.6M361.4,166.4L363.5,166.4M361.3,167.0L363.5,167.0M360.5,166.4L360.5,167.0M360.5,166.4L361.4,166.4M360.5,167.0L361.3,167.0M359.2,164.9L359.2,166.7M359.2,164.9L360.0,164.9M359.2,166.7L360.5,166.7M357.7,162.3L357.7,165.8M357.7,162.3L358.9,162.3M357.7,165.8L359.2,165.8M360.3,167.8L363.5,167.8M359.9,168.4L363.5,168.4M358.9,167.8L358.9,168.4M358.9,167.8L360.3,167.8M358.9,168.4L359.9,168.4M361.5,168.9L363.5,168.9M361.4,169.7L363.5,169.7M361.0,168.9L361.0,169.7M361.0,168.9L361.5,168.9M361.0,169.7L361.4,169.7M360.2,170.5L363.5,170.5M359.0,169.3L359.0,170.5M359.0,169.3L361.0,169.3M359.0,170.5L360.2,170.5M357.7,168.1L357.7,169.9M357.7,168.1L358.9,168.1M357.7,169.9L359.0,169.9M356.0,164.0L356.0,169.0M356.0,164.0L357.7,164.0M356.0,169.0L357.7,169.0M361.3,171.1L363.5,171.1M361.9,171.7L363.5,171.7M360.6,171.1L360.6,171.7M360.6,171.1L361.3,171.1M360.6,171.7L361.9,171.7M360.6,172.6L363.5,172.6M359.6,171.4L359.6,172.6M359.6,171.4L360.6,171.4M359.6,172.6L360.6,172.6M360.8,173.4L363.5,173.4M360.9,174.1L363.5,174.1M359.6,173.4L359.6,174.1M359.6,173.4L360.8,173.4M359.6,174.1L360.9,174.1M358.2,172.0L358.2,173.8M358.2,172.0L359.6,172.0M358.2,173.8L359.6,173.8M361.9,175.1L363.5,175.1M362.0,175.8L363.5,175.8M360.9,175.1L360.9,175.8M360.9,175.1L361.9,175.1M360.9,175.8L362.0,175.8M361.3,176.4L363.5,176.4M362.3,177.2L363.5,177.2M362.4,177.9L363.5,177.9M361.9,177.2L361.9,177.9M361.9,177.2L362.3,177.2M361.9,177.9L362.4,177.9M360.9,176.4L360.9,177.5M360.9,176.4L361.3,176.4M360.9,177.5L361.9,177.5M359.9,175.5L359.9,177.0M359.9,175.5L360.9,175.5M359.9,177.0L360.9,177.0M360.9,178.5L363.5,178.5M362.3,179.2L363.5,179.2M362.4,179.9L363.5,179.9M361.5,179.2L361.5,179.9M361.5,179.2L362.3,179.2M361.5,179.9L362.4,179.9M360.0,178.5L360.0,179.5M360.0,178.5L360.9,178.5M360.0,179.5L361.5,179.5M358.9,176.2L358.9,179.0M358.9,176.2L359.9,176.2M358.9,179.0L360.0,179.0M355.6,172.9L355.6,177.6M355.6,172.9L358.2,172.9M355.6,177.6L358.9,177.6M361.7,180.5L363.5,180.5M361.3,181.2L363.5,181.2M360.9,180.5L360.9,181.2M360.9,180.5L361.7,180.5M360.9,181.2L361.3,181.2M361.1,182.0L363.5,182.0M359.6,180.8L359.6,182.0M359.6,180.8L360.9,180.8M359.6,182.0L361.1,182.0M361.5,182.9L363.5,182.9M361.3,183.6L363.5,183.6M360.8,182.9L360.8,183.6M360.8,182.9L361.5,182.9M360.8,183.6L361.3,183.6M361.5,184.4L363.5,184.4M360.1,183.3L360.1,184.4M360.1,183.3L360.8,183.3M360.1,184.4L361.5,184.4M357.4,181.4L357.4,183.9M357.4,181.4L359.6,181.4M357.4,183.9L360.1,183.9M360.2,185.4L363.5,185.4M361.5,186.3L363.5,186.3M361.4,187.3L363.5,187.3M360.8,186.3L360.8,187.3M360.8,186.3L361.5,186.3M360.8,187.3L361.4,187.3M359.6,185.4L359.6,186.8M359.6,185.4L360.2,185.4M359.6,186.8L360.8,186.8M362.2,188.1L363.5,188.1M362.1,188.6L363.5,188.6M361.7,188.1L361.7,188.6M361.7,188.1L362.2,188.1M361.7,188.6L362.1,188.6M362.3,189.1L363.5,189.1M362.1,189.7L363.5,189.7M361.4,189.1L361.4,189.7M361.4,189.1L362.3,189.1M361.4,189.7L362.1,189.7M360.3,188.4L360.3,189.4M360.3,188.4L361.7,188.4M360.3,189.4L361.4,189.4M361.0,190.5L363.5,190.5M362.0,191.2L363.5,191.2M361.9,191.8L363.5,191.8M361.5,191.2L361.5,191.8M361.5,191.2L362.0,191.2M361.5,191.8L361.9,191.8M360.6,190.5L360.6,191.5M360.6,190.5L361.0,190.5M360.6,191.5L361.5,191.5M359.7,188.9L359.7,191.0M359.7,188.9L360.3,188.9M359.7,191.0L360.6,191.0M357.5,186.1L357.5,189.9M357.5,186.1L359.6,186.1M357.5,189.9L359.7,189.9M356.1,182.6L356.1,188.0M356.1,182.6L357.4,182.6M356.1,188.0L357.5,188.0M353.9,175.2L353.9,185.3M353.9,175.2L355.6,175.2M353.9,185.3L356.1,185.3M351.0,166.5L351.0,180.3M351.0,166.5L356.0,166.5M351.0,180.3L353.9,180.3M351.0,179.0L351.0,173.4M346.1,194.4L346.1,199.3M346.1,194.4L350.0,194.4M346.1,199.3L350.0,199.3M357.7,192.4L363.5,192.4M359.1,193.3L363.5,193.3M360.1,194.2L363.5,194.2M357.9,193.3L357.9,194.2M357.9,193.3L359.1,193.3M357.9,194.2L360.1,194.2M355.8,192.4L355.8,193.7M355.8,192.4L357.7,192.4M355.8,193.7L357.9,193.7M357.9,195.0L363.5,195.0M359.0,195.5L363.5,195.5M356.1,195.0L356.1,195.5M356.1,195.0L357.9,195.0M356.1,195.5L359.0,195.5M355.2,196.1L363.5,196.1M352.9,195.2L352.9,196.1M352.9,195.2L356.1,195.2M352.9,196.1L355.2,196.1M350.0,193.1L350.0,195.7M350.0,193.1L355.8,193.1M350.0,195.7L352.9,195.7M350.0,194.4L350.0,194.4M357.5,196.8L363.5,196.8M356.1,197.6L363.5,197.6M352.9,196.8L352.9,197.6M352.9,196.8L357.5,196.8M352.9,197.6L356.1,197.6M356.9,198.5L363.5,198.5M360.1,199.4L363.5,199.4M358.6,200.2L363.5,200.2M357.4,199.4L357.4,200.2M357.4,199.4L360.1,199.4M357.4,200.2L358.6,200.2M355.1,198.5L355.1,199.8M355.1,198.5L356.9,198.5M355.1,199.8L357.4,199.8M350.0,197.2L350.0,199.2M350.0,197.2L352.9,197.2M350.0,199.2L355.1,199.2M350.0,199.3L350.0,198.2" stroke="#111" stroke-width="0.6" fill="none"/>
<rect x="357.5" y="21" width="3.5" height="179.5" fill="#000" opacity="0.25"/>
<rect x="360.8" y="21" width="3.8" height="179.5" fill="#000" opacity="0.85"/>
<rect x="43.0" y="229.0" width="186.7" height="178.3" fill="#fff" stroke="#8c8c8c" stroke-width="0.9"/>
<path d="M174.8 314.6h0M154.5 311.7h0M149.4 311.3h0M120.0 315.4h0M143.8 311.0h0M142.7 316.5h0M146.8 320.2h0M138.6 319.0h0M147.3 309.3h0M140.8 307.8h0M128.3 314.2h0M161.3 318.9h0M161.2 316.7h0M173.6 318.6h0M148.8 316.0h0M141.9 312.6h0M139.8 312.0h0M124.8 316.7h0M162.7 317.5h0M131.5 318.1h0M130.2 310.1h0M144.9 311.6h0M170.3 307.9h0M151.6 310.3h0M132.6 313.1h0M137.3 317.8h0M157.4 319.5h0M145.6 317.9h0M136.5 315.7h0M144.5 314.8h0M159.2 309.9h0M177.6 316.9h0M129.3 311.5h0M138.6 316.0h0M135.9 314.5h0M134.1 316.8h0M132.6 309.4h0M164.9 313.8h0M146.0 309.0h0M123.7 312.8h0M157.7 314.1h0M142.7 318.0h0M121.9 310.8h0M139.1 316.0h0M139.2 318.5h0M134.9 310.2h0M148.4 308.5h0M114.3 316.4h0M144.0 309.6h0M163.2 309.4h0M160.8 311.2h0M164.6 315.6h0M164.8 314.0h0M170.3 311.1h0M131.2 308.2h0M160.7 317.2h0M120.1 311.6h0M139.0 310.3h0M119.3 314.8h0M163.7 313.4h0M168.0 308.7h0M145.0 310.3h0M174.6 319.4h0M137.9 317.8h0M150.3 309.3h0M150.3 311.1h0M132.0 311.1h0M154.6 314.1h0M177.1 318.8h0M132.6 314.4h0M161.5 308.5h0M145.7 319.6h0M174.5 309.2h0M155.3 313.4h0M158.1 316.3h0M157.6 315.7h0M151.7 311.5h0M127.1 314.8h0M168.9 315.2h0M127.4 308.4h0M151.6 318.8h0M157.2 312.7h0M135.4 313.2h0M150.2 313.6h0M165.5 318.1h0M147.6 312.6h0M134.7 319.7h0M133.4 317.0h0M139.1 317.4h0M140.3 308.8h0M133.6 314.8h0M153.7 309.5h0M139.4 311.8h0M146.4 313.9h0M158.2 311.5h0M135.2 320.3h0M143.5 311.6h0M180.4 311.8h0M161.1 314.8h0M128.6 310.7h0M146.8 319.9h0M156.5 320.1h0M166.5 315.3h0M150.2 318.3h0M140.0 312.7h0M137.0 312.9h0M157.7 312.1h0M152.7 319.0h0M140.3 317.7h0M145.2 307.9h0M141.8 309.8h0M158.9 313.7h0M137.7 314.5h0M155.3 313.5h0M160.8 312.2h0M155.3 308.5h0M135.5 310.1h0M168.2 319.6h0M137.8 316.1h0M154.4 312.4h0M136.7 311.4h0M121.8 308.4h0M151.4 309.6h0M152.3 318.6h0M146.8 312.7h0M152.1 315.0h0M138.3 310.2h0M136.9 317.6h0M145.5 309.4h0M176.6 310.9h0M160.2 307.8h0M140.2 308.1h0M156.4 310.2h0M140.8 315.2h0M141.1 317.8h0M160.9 310.0h0M140.1 310.5h0M122.9 309.8h0M134.4 315.0h0M149.3 320.1h0M149.9 314.3h0M166.6 307.8h0M137.3 316.9h0M159.0 310.7h0M154.4 308.2h0M145.8 317.4h0M160.5 308.7h0M155.4 309.4h0M135.1 319.8h0M164.1 318.3h0M129.7 312.0h0M148.9 312.7h0M148.0 310.3h0M154.4 315.1h0M137.1 312.8h0M147.5 309.3h0M145.9 310.7h0M163.0 318.2h0M136.1 310.0h0M149.1 309.9h0M144.1 309.0h0M128.5 316.9h0M146.9 314.6h0M125.7 309.0h0M169.1 310.7h0M131.9 311.3h0M153.6 310.7h0M160.9 312.0h0M138.3 311.8h0M141.5 316.2h0M139.9 308.8h0M146.1 309.6h0M123.7 317.7h0M129.5 310.1h0M145.9 314.7h0M163.6 314.4h0M157.5 314.4h0M173.9 319.5h0M158.4 311.6h0M140.3 308.2h0M146.2 308.8h0M117.5 319.6h0M133.6 314.2h0M132.7 311.2h0M152.1 312.8h0M157.7 310.6h0M139.6 316.1h0M139.2 309.3h0M124.8 315.3h0M146.1 317.2h0M151.7 311.0h0M154.7 320.1h0M136.3 311.9h0M177.8 320.2h0M165.9 312.1h0M146.6 313.5h0M140.1 317.5h0M143.2 316.5h0M150.3 308.6h0M147.7 311.5h0M155.3 313.2h0M159.5 312.3h0M168.5 313.9h0M165.2 309.2h0M146.3 317.0h0M153.8 310.5h0M142.2 314.3h0M139.2 316.6h0M176.7 309.6h0M141.1 315.9h0M177.9 317.1h0M142.8 309.7h0M151.8 315.1h0M164.3 314.7h0M148.4 320.0h0M153.9 318.0h0M144.4 312.7h0M140.9 316.4h0M145.5 312.8h0M138.3 310.5h0M172.5 310.6h0M145.5 310.1h0M173.8 313.5h0M148.3 308.1h0M156.4 307.8h0M143.6 311.8h0M164.4 312.9h0M157.6 311.9h0M143.9 308.2h0M154.5 307.8h0M151.8 310.7h0M152.5 312.1h0M141.4 318.1h0M150.0 307.7h0M128.7 316.6h0M145.0 317.1h0M164.0 314.6h0M157.6 309.6h0M164.6 310.0h0M176.2 310.7h0M156.9 314.7h0M179.1 307.6h0M164.0 313.1h0M150.5 311.6h0M173.8 316.8h0M139.4 317.6h0M152.0 319.5h0M134.3 313.9h0M145.7 307.8h0M138.4 319.4h0M138.2 308.6h0M157.4 317.7h0M147.2 310.1h0M167.7 312.3h0M144.4 314.9h0M161.3 313.0h0M153.3 317.5h0M172.4 308.1h0M126.7 314.6h0M159.5 309.2h0M149.8 313.0h0M130.6 317.4h0M164.0 318.2h0M134.9 309.4h0M172.3 316.6h0M155.7 308.5h0M158.4 318.3h0M149.2 312.5h0M161.6 310.1h0M120.0 315.4h0M149.1 308.0h0M138.6 318.4h0M152.2 319.5h0M147.3 320.1h0M157.2 312.4h0M135.4 310.8h0M175.6 319.6h0M182.7 319.4h0M144.9 319.4h0M147.8 319.4h0M152.3 315.8h0M167.0 307.6h0M176.5 317.1h0M129.9 319.7h0M138.8 310.2h0M132.1 310.8h0M131.3 311.1h0M123.4 317.5h0M153.4 315.4h0M130.6 308.2h0M170.5 314.4h0M161.6 311.8h0M132.6 317.4h0M132.5 315.4h0M138.8 312.0h0M169.0 309.8h0M135.3 308.6h0M125.6 316.8h0M147.3 315.6h0M153.6 311.4h0M138.1 318.6h0M172.3 308.7h0M151.6 318.6h0M154.8 310.0h0M135.2 316.5h0M147.4 311.1h0M145.7 309.1h0M113.9 311.6h0M152.3 317.3h0M121.1 316.4h0M147.6 316.9h0M125.9 311.2h0M178.3 318.1h0M152.9 308.6h0M160.9 309.9h0M161.8 319.5h0M128.1 314.5h0M113.8 317.2h0M143.1 315.3h0M161.5 310.7h0M149.4 311.4h0M159.8 316.7h0M162.0 313.6h0M125.6 317.1h0M152.3 318.7h0M177.5 313.5h0M139.4 318.2h0M117.6 314.7h0M144.5 320.2h0M141.0 313.9h0M154.3 320.3h0M134.6 314.8h0M149.4 317.5h0M114.7 318.2h0M160.8 318.8h0M171.8 312.5h0M167.5 309.1h0M125.3 307.8h0M152.8 319.4h0M152.2 318.4h0M147.0 313.7h0M133.1 313.3h0M153.2 319.7h0M150.1 314.4h0M162.1 308.4h0M149.9 317.9h0M151.5 308.6h0M118.8 314.6h0M130.6 317.9h0M140.9 313.6h0M152.5 319.0h0M147.9 308.9h0M170.5 311.7h0M134.9 319.1h0M144.4 318.2h0M151.8 314.4h0M144.5 311.6h0M155.4 309.4h0M139.4 318.4h0M169.3 310.6h0M143.2 316.7h0M164.7 312.8h0M147.5 315.4h0M170.4 309.7h0M127.0 314.9h0M155.8 318.4h0M141.5 313.0h0M151.5 314.4h0M165.9 310.4h0M130.9 319.4h0M128.2 317.3h0M133.0 309.6h0M151.8 320.0h0M119.7 319.1h0M149.4 315.6h0M128.7 319.3h0M130.8 318.9h0M142.5 317.5h0M153.7 318.6h0M138.6 308.3h0M140.6 310.3h0M147.4 316.8h0M143.9 317.8h0M141.5 313.5h0M149.3 311.8h0M164.5 318.9h0M178.7 313.0h0M158.0 316.9h0M149.2 316.2h0M133.5 311.6h0M149.3 320.3h0M159.7 318.2h0M167.0 311.2h0M134.8 312.6h0M151.5 309.7h0M160.2 319.5h0M175.9 310.0h0M151.8 320.2h0M139.9 311.9h0M137.7 315.7h0M142.6 312.0h0M138.2 316.7h0M160.4 316.9h0M164.0 319.4h0M158.9 314.0h0M165.9 311.2h0M141.2 316.4h0M153.7 307.9h0M142.2 315.5h0M148.7 308.1h0M166.4 318.8h0M147.6 318.7h0M120.0 317.1h0M144.2 315.0h0M137.3 307.8h0M125.4 309.9h0M136.1 319.1h0M162.4 307.9h0M173.2 311.4h0M140.7 308.3h0M163.0 314.6h0M165.7 315.7h0M130.6 308.8h0M147.4 308.6h0M147.3 311.2h0M150.6 315.3h0M124.1 312.7h0M142.8 310.7h0M163.9 308.3h0M166.9 317.7h0M175.5 319.5h0M142.9 311.7h0M176.0 319.7h0M158.0 309.9h0M127.6 313.7h0M159.4 314.6h0M142.7 320.1h0M155.8 310.9h0M146.5 318.6h0M166.1 310.8h0M151.8 310.4h0M143.8 308.5h0M162.5 310.7h0M151.8 308.4h0M141.8 319.0h0M167.2 307.6h0M141.9 318.5h0M138.4 315.0h0M139.9 309.2h0M126.0 312.4h0M139.7 314.4h0M175.9 316.0h0M134.4 312.8h0M148.1 309.9h0M131.4 310.4h0M138.8 313.8h0M170.8 314.9h0M161.4 319.5h0M138.8 309.2h0M148.1 311.3h0M135.6 313.8h0M136.2 317.3h0M134.3 312.3h0M134.5 313.3h0M152.9 320.2h0M157.0 307.7h0M155.3 308.7h0M145.5 310.4h0M127.6 316.2h0M147.0 310.4h0M134.1 312.3h0M161.2 316.0h0M156.3 314.0h0M159.2 311.8h0M142.8 319.4h0M120.8 313.4h0M162.4 308.2h0M166.4 317.8h0M125.8 319.3h0M150.1 310.2h0M165.9 314.5h0M131.9 308.5h0M174.5 311.5h0M142.8 320.3h0M131.9 313.0h0M168.6 312.6h0M152.4 310.5h0M138.2 309.7h0M161.2 308.6h0M118.7 307.6h0M175.2 317.9h0M135.8 315.6h0M152.3 307.9h0M142.0 308.8h0M154.5 320.1h0M161.3 317.8h0M135.6 309.8h0M159.8 320.3h0M143.6 315.4h0M137.7 312.7h0M144.6 309.0h0M132.9 308.4h0M136.1 311.4h0M162.2 309.5h0M145.7 313.0h0M165.1 314.4h0M154.5 312.5h0M132.6 311.4h0M119.5 318.9h0M137.7 314.2h0M152.0 320.0h0M148.1 311.5h0M135.5 311.4h0M163.2 316.9h0M121.8 309.4h0M129.1 320.1h0M149.9 311.1h0M180.9 318.5h0M154.2 313.2h0M132.9 317.6h0M156.9 311.3h0M158.3 316.6h0M162.1 311.0h0M141.9 315.6h0M136.0 311.8h0M149.8 307.8h0M154.2 319.7h0M172.0 308.9h0M179.3 307.9h0M137.0 319.6h0M140.2 318.5h0M147.0 308.6h0M144.3 310.8h0M155.3 314.2h0M155.3 308.7h0M151.9 312.9h0M168.2 320.0h0M145.6 316.9h0M132.2 315.0h0M124.6 309.2h0M132.6 314.7h0M132.3 319.5h0M119.7 319.1h0M157.9 316.1h0M150.8 316.2h0M141.7 316.7h0M134.7 307.8h0M124.3 308.2h0M134.2 316.3h0M175.7 314.4h0M114.8 318.2h0M150.1 311.1h0M159.2 315.0h0M150.0 313.5h0M143.2 316.9h0M159.5 308.4h0M131.5 313.4h0M156.3 317.9h0M169.5 307.6h0M132.4 311.9h0M135.7 312.0h0M150.0 313.1h0M162.8 316.2h0M168.1 313.7h0M158.2 317.1h0M138.0 314.3h0M131.3 311.4h0M151.6 318.4h0M154.0 313.4h0M131.5 310.3h0M148.9 311.7h0M153.0 319.3h0M163.7 319.7h0M133.1 315.5h0M156.4 310.6h0M130.5 313.1h0M141.6 318.7h0M146.8 310.7h0M170.8 310.9h0M151.8 312.8h0M155.4 309.4h0M163.1 310.6h0M127.6 308.6h0M159.5 313.9h0M129.4 309.9h0M172.4 310.4h0M169.7 311.5h0M155.5 313.1h0M135.9 312.5h0M173.0 314.6h0M151.9 308.3h0M149.7 307.9h0M156.7 311.7h0M122.3 313.3h0M154.4 320.2h0M162.9 307.9h0M153.1 318.4h0M150.2 309.6h0M133.7 314.6h0M157.7 317.5h0M151.0 317.4h0M148.1 310.4h0M139.6 318.0h0M160.8 308.3h0M166.7 312.4h0M153.8 319.9h0M161.5 317.3h0M167.9 312.9h0M171.8 310.4h0M151.4 312.9h0M144.8 313.0h0M141.8 319.9h0M148.2 310.2h0M156.3 318.0h0M162.1 318.0h0M141.6 311.2h0M150.2 318.4h0M133.1 320.0h0M167.0 313.6h0M142.1 312.0h0M153.4 313.6h0M137.2 314.6h0M143.5 315.2h0M137.7 314.2h0M173.6 318.4h0M153.4 311.8h0M145.5 320.3h0M133.8 314.3h0M138.8 308.6h0M156.5 310.2h0M173.0 314.7h0M126.5 318.1h0M134.2 310.2h0M145.4 320.0h0M138.6 309.0h0M123.1 320.0h0M148.3 310.0h0M159.3 315.2h0M124.3 317.2h0M151.2 310.2h0M162.5 312.8h0M162.7 309.0h0M141.7 318.6h0M182.6 314.1h0M156.3 316.3h0M135.8 314.2h0M162.8 319.5h0M131.2 315.1h0M161.4 313.3h0M129.1 317.5h0M159.9 315.9h0M139.2 313.8h0M165.0 308.5h0M159.1 320.2h0M154.7 308.7h0M148.9 313.0h0M164.3 317.8h0M120.9 310.6h0M154.5 311.8h0M154.2 309.6h0M156.4 309.2h0M160.4 315.8h0M149.8 308.7h0M160.1 319.5h0M150.3 311.2h0M171.6 313.9h0M117.7 315.5h0M173.5 315.8h0M137.7 312.3h0M114.1 315.0h0M131.8 318.2h0M145.4 314.3h0M150.9 311.5h0M147.3 310.7h0M160.3 311.8h0M147.5 313.7h0M147.1 318.9h0M115.8 315.0h0M155.3 317.0h0M163.2 315.3h0M141.7 311.7h0M119.8 320.0h0M128.0 308.6h0M173.1 312.5h0M138.9 311.6h0M138.0 310.6h0M135.7 308.1h0M158.2 313.0h0M139.2 320.3h0M135.0 316.9h0M125.4 309.5h0M146.4 318.7h0M163.0 317.7h0M145.8 319.2h0M161.2 310.6h0M150.6 318.2h0M150.2 307.9h0M150.7 311.5h0M148.5 313.3h0M163.4 312.4h0M155.3 314.8h0M139.3 316.1h0M149.9 311.3h0M146.9 308.6h0M155.3 308.1h0M150.7 312.9h0M154.2 319.4h0M125.8 315.5h0M153.7 312.8h0M167.7 318.1h0M127.7 320.0h0M172.0 320.3h0M152.5 309.4h0M144.9 310.0h0M120.9 309.8h0M164.3 319.7h0M133.5 318.8h0M140.3 314.1h0M156.2 315.6h0M132.6 313.5h0M133.2 317.9h0M130.7 315.9h0M146.3 312.1h0M156.8 309.3h0M154.0 314.5h0M154.1 308.1h0M142.8 314.5h0M150.1 311.9h0M137.6 314.7h0M178.0 311.0h0M150.9 313.8h0M118.7 318.9h0M132.0 309.0h0M172.0 308.8h0M127.5 309.6h0M141.4 309.5h0M154.1 319.0h0M131.6 310.4h0M164.0 316.7h0M173.2 317.7h0M135.6 314.3h0M164.9 317.5h0M134.6 310.1h0M133.0 309.7h0M151.7 312.8h0M151.6 309.8h0M139.1 316.4h0M160.6 313.3h0M126.0 316.3h0M135.2 314.7h0M131.8 314.5h0M159.4 311.4h0M160.1 319.5h0M158.0 308.0h0M128.6 315.6h0M150.0 318.3h0M154.9 317.4h0M123.7 308.9h0M135.7 318.8h0M157.7 318.1h0M158.6 318.5h0M151.8 315.5h0M156.1 318.6h0M152.9 317.8h0M150.2 319.8h0M146.4 315.2h0M134.9 317.9h0M144.3 310.6h0M142.0 318.9h0M182.8 312.9h0M151.9 314.8h0M147.8 308.0h0M144.5 308.8h0M146.3 313.7h0M143.9 315.7h0M156.2 318.0h0M147.6 318.0h0M160.2 314.5h0M137.6 316.8h0M153.3 308.3h0M161.2 314.8h0M130.7 314.4h0M150.5 317.0h0M151.7 314.4h0M143.0 308.9h0M140.7 316.3h0M120.2 317.3h0M165.2 315.5h0M134.0 319.0h0M129.4 316.7h0M157.9 312.5h0M120.5 313.3h0M162.4 310.1h0M154.5 315.0h0M157.0 308.1h0M145.5 314.1h0M129.7 319.0h0M119.7 315.1h0M169.9 313.7h0M140.9 310.8h0M140.2 308.5h0M171.7 310.6h0M138.5 318.0h0M144.4 313.6h0M144.4 308.6h0M145.9 314.4h0M132.4 316.5h0M139.6 313.2h0M167.3 314.2h0M159.4 308.8h0M118.6 315.0h0M153.0 312.1h0M146.3 313.2h0M142.4 320.0h0M163.6 309.1h0M121.2 307.8h0M166.0 310.7h0M150.0 316.7h0M156.2 310.2h0M151.8 311.4h0M160.7 314.3h0M144.2 312.3h0M139.9 315.8h0M159.7 316.3h0M150.6 312.6h0M129.2 313.0h0M168.2 320.0h0M166.2 313.8h0M169.6 317.7h0M149.2 320.4h0M153.3 309.2h0M142.3 309.0h0M133.4 309.9h0M149.0 309.1h0M150.6 317.0h0M138.1 310.8h0M175.4 308.5h0M123.8 311.9h0M135.8 317.7h0M137.9 312.0h0M167.4 313.8h0M144.2 310.9h0M143.1 320.4h0M134.7 315.0h0M136.5 311.5h0M128.4 310.0h0M163.2 309.6h0M157.1 311.2h0M162.9 318.9h0M138.1 309.1h0M133.3 319.7h0M117.2 310.7h0M143.6 307.9h0M150.1 310.7h0M159.3 308.0h0M132.7 315.7h0M156.9 314.6h0M173.6 312.0h0M135.2 319.9h0M136.9 319.7h0M122.5 315.7h0M151.6 316.1h0M160.9 320.2h0M159.5 315.0h0M160.5 317.5h0M169.2 314.9h0M149.9 312.6h0M162.3 318.2h0M133.7 316.1h0M136.1 307.7h0M151.6 308.9h0M135.7 310.4h0M156.6 310.2h0M168.6 310.4h0M154.1 308.9h0M136.9 319.5h0M136.8 312.6h0M168.5 313.9h0M136.0 317.4h0M149.3 308.0h0M144.1 309.0h0M148.8 317.0h0M164.4 313.2h0M139.9 309.9h0M126.8 317.2h0M169.8 311.7h0M151.3 309.0h0M158.9 308.8h0M147.7 314.0h0M159.7 309.5h0M167.0 309.1h0M168.5 315.4h0M143.9 314.9h0M142.7 310.0h0M153.9 309.8h0M151.1 312.0h0M156.5 307.9h0M137.3 309.4h0M113.1 315.1h0M154.8 310.8h0M159.7 312.6h0M157.6 317.3h0M172.9 317.9h0M160.8 308.0h0M142.2 317.0h0M162.8 320.0h0M146.7 309.3h0M166.8 308.9h0M151.6 318.3h0M154.8 315.9h0M151.4 308.7h0M148.8 318.9h0M125.6 311.3h0M148.9 317.8h0M113.9 320.1h0M155.5 308.1h0M162.9 318.4h0M178.8 317.3h0M153.6 314.1h0M137.3 315.4h0M124.2 316.7h0M177.2 317.4h0M126.6 310.1h0M161.4 316.4h0M113.4 307.6h0M147.2 317.0h0M158.2 317.6h0M152.9 314.7h0M147.4 317.2h0M135.6 308.8h0M134.4 315.8h0M163.1 308.9h0M154.5 317.1h0M145.6 320.2h0M151.1 316.4h0M134.1 307.9h0M163.3 318.9h0M166.9 316.5h0M136.3 309.7h0M149.5 310.0h0M163.7 308.5h0M138.4 317.4h0M178.5 316.7h0M170.7 308.8h0M143.8 315.9h0M162.7 314.2h0M172.9 317.9h0M129.3 310.6h0M157.3 310.3h0M145.8 309.7h0M144.8 315.7h0M158.7 318.3h0M140.8 310.4h0M127.0 315.5h0M126.7 314.3h0M147.7 314.4h0M157.4 310.7h0M147.6 312.2h0M145.7 315.9h0M147.5 308.7h0M167.3 315.6h0M156.0 309.1h0M136.8 308.2h0M143.7 309.9h0M166.1 314.9h0M139.3 313.8h0M142.1 308.1h0M147.6 319.3h0M132.0 308.6h0M161.5 311.3h0M115.2 314.4h0M169.8 316.4h0M141.5 319.1h0M129.2 320.1h0M152.2 309.2h0M122.3 318.2h0M156.1 310.7h0M159.6 318.6h0M139.4 308.2h0M142.2 315.4h0M162.2 319.4h0M137.9 310.4h0M148.3 320.3h0M153.2 320.2h0M171.4 313.1h0M140.5 310.0h0M148.5 317.4h0M165.0 314.4h0M144.0 317.6h0M119.4 319.7h0M120.4 315.3h0M177.4 313.7h0M151.2 312.1h0M170.3 316.7h0M144.4 319.9h0M156.1 313.3h0M141.5 313.2h0M139.8 319.8h0M146.9 320.3h0M149.9 313.1h0M171.0 308.4h0M145.0 319.9h0M153.7 316.4h0M144.1 315.3h0M150.2 317.8h0M128.3 310.4h0M164.4 318.8h0M140.2 315.0h0M148.6 315.4h0M144.8 310.1h0M162.8 310.1h0M155.8 309.1h0M148.2 319.0h0M150.6 317.4h0M153.2 316.7h0M159.3 319.7h0M155.6 309.2h0M167.3 318.5h0M172.3 312.9h0M157.2 313.5h0M128.2 309.4h0M174.2 311.9h0M180.2 318.1h0M142.5 314.7h0M141.8 320.3h0M117.1 311.2h0M159.7 313.7h0M132.9 317.7h0M175.4 309.0h0M149.1 315.6h0M158.1 312.5h0M142.0 318.8h0M136.1 319.6h0M151.7 318.9h0M140.1 317.1h0M142.9 313.7h0M147.4 314.4h0M139.6 319.2h0M144.6 318.7h0M159.8 313.3h0M142.1 313.9h0M150.5 318.7h0M136.7 315.1h0M161.7 319.9h0M128.7 308.7h0M162.3 317.7h0M134.3 314.0h0M124.2 316.2h0M163.2 310.8h0M152.0 307.7h0M128.3 310.5h0M139.4 311.5h0M168.1 310.1h0M147.0 311.1h0M156.3 316.1h0M125.2 310.9h0M125.2 311.4h0M156.3 320.1h0M182.3 309.6h0M139.6 317.2h0M156.6 309.2h0M133.5 312.2h0M166.4 317.7h0M140.8 311.1h0M141.1 316.4h0M119.2 313.6h0M141.4 316.0h0M150.4 317.3h0M168.2 309.0h0M129.9 308.9h0M162.3 317.8h0M142.4 315.2h0M143.2 311.6h0M133.3 311.3h0M121.9 318.8h0M129.2 315.0h0M171.8 309.6h0M129.5 312.1h0M140.8 315.2h0M163.9 314.3h0M115.6 309.3h0M153.9 311.9h0M139.6 309.2h0M150.0 319.5h0M160.2 313.1h0M144.9 317.5h0M144.2 316.8h0M158.1 311.2h0M156.8 317.9h0M136.4 314.2h0M144.4 312.5h0M127.0 318.1h0M166.6 318.2h0M129.0 316.3h0M150.0 313.2h0M173.4 315.2h0M159.3 311.5h0M142.9 318.0h0M136.3 316.7h0M137.9 310.7h0M161.1 307.7h0M152.4 315.3h0M147.3 317.6h0M134.9 318.4h0M140.1 316.4h0M141.8 318.8h0M150.7 310.0h0M152.1 319.2h0M143.4 308.5h0M158.6 308.9h0M155.6 310.7h0M143.0 316.3h0M159.3 310.4h0M133.1 310.8h0M137.5 315.1h0M145.1 312.4h0M128.6 309.5h0M135.0 318.6h0M148.0 318.1h0M141.7 313.1h0M151.6 319.0h0M133.9 316.4h0M143.2 308.0h0M130.8 318.0h0M142.4 315.3h0M151.0 315.8h0M143.0 313.8h0M125.2 315.4h0M143.8 320.4h0M148.9 310.3h0M163.6 307.9h0M146.1 316.0h0M140.5 308.2h0M129.1 313.9h0M176.6 311.3h0M132.5 309.8h0M129.8 310.5h0M144.5 309.5h0M119.4 315.2h0M162.8 311.5h0M149.5 314.3h0M154.1 317.7h0M132.1 312.7h0M139.2 320.0h0M159.7 316.5h0M160.4 319.7h0M163.4 311.1h0M118.5 312.0h0M148.3 315.9h0M141.5 316.5h0M163.4 314.0h0M145.7 319.4h0M154.4 312.5h0M142.3 318.2h0M156.2 317.5h0M169.0 317.7h0M137.9 308.3h0M116.6 320.1h0M131.6 316.8h0M170.6 312.3h0M150.5 319.4h0M142.7 314.9h0M132.7 319.6h0M162.9 320.2h0M151.5 312.3h0M145.5 311.9h0M139.1 320.3h0M144.9 319.4h0M142.4 318.5h0M155.8 310.4h0M166.3 315.4h0M117.8 318.3h0M125.4 319.8h0M145.8 312.8h0M148.4 317.9h0M123.9 309.1h0M137.9 309.3h0M141.2 316.8h0M140.5 310.4h0M140.2 315.0h0M145.9 317.1h0M160.5 310.2h0M158.3 317.3h0M156.1 309.6h0M151.3 310.0h0M136.4 318.8h0M139.9 307.8h0M157.6 319.1h0M148.9 315.1h0M159.2 317.3h0M151.2 310.3h0M148.1 309.8h0M153.8 310.2h0M124.1 314.3h0M144.8 313.7h0M138.4 318.7h0M159.9 312.7h0M137.1 311.8h0M150.7 314.6h0M140.7 317.9h0M154.3 314.0h0M157.9 316.1h0M144.0 319.8h0M148.7 311.1h0M149.7 316.4h0M158.7 314.6h0M142.1 313.3h0M147.6 315.6h0M140.6 310.9h0M132.6 316.6h0M149.6 319.9h0M153.3 319.4h0M134.8 311.2h0M170.6 313.2h0M135.7 320.0h0M158.1 317.4h0M152.5 310.0h0M121.3 316.3h0M146.5 316.1h0M123.2 313.1h0M145.2 313.0h0M157.0 319.2h0M174.6 314.5h0M158.6 311.2h0M123.9 313.5h0M141.6 312.6h0M169.4 319.5h0M149.5 307.9h0M173.3 317.8h0M135.9 317.2h0M138.4 319.7h0M126.5 310.4h0M141.0 319.4h0M165.7 314.9h0M132.8 308.7h0M159.3 315.2h0M153.7 317.2h0M158.6 314.0h0M142.9 320.2h0M147.1 312.9h0M178.9 310.5h0M128.0 315.4h0M158.2 311.7h0M169.6 312.5h0M153.7 309.7h0M171.6 318.2h0M142.2 311.9h0M129.2 308.3h0M140.4 317.7h0M145.1 317.6h0M153.9 317.2h0M133.8 318.6h0M159.8 308.2h0M123.0 308.7h0M161.0 308.1h0M142.8 314.2h0M119.9 320.2h0M119.8 314.0h0M119.5 320.0h0M131.5 309.4h0M148.1 317.7h0M166.2 311.4h0M158.1 310.5h0M126.3 317.2h0M141.7 310.9h0M124.8 311.6h0M143.5 317.6h0M135.8 317.6h0M120.2 308.2h0M150.8 319.3h0M173.9 317.8h0M139.9 310.8h0M134.2 310.1h0M171.2 316.3h0M114.1 308.8h0M120.2 320.3h0M127.5 312.2h0M151.9 313.8h0M157.5 314.6h0M144.0 308.7h0M178.8 316.5h0M142.9 320.0h0M145.9 315.6h0M141.4 319.1h0M164.6 318.2h0M146.3 319.7h0M140.2 309.7h0M171.6 309.3h0M165.7 315.0h0M161.5 310.7h0M127.3 319.5h0M130.3 316.6h0M142.8 310.8h0M142.6 317.3h0M140.1 319.4h0M143.2 318.9h0M156.4 320.1h0M131.4 309.6h0M150.5 316.7h0M140.8 311.6h0M139.5 317.1h0M142.6 317.8h0M158.0 308.4h0M151.2 311.6h0M135.1 311.4h0M152.0 315.3h0M149.1 313.9h0M153.4 320.2h0M143.3 312.6h0M162.4 312.8h0M153.1 317.5h0M130.2 308.0h0M128.1 310.2h0M126.3 312.6h0M153.6 311.1h0M137.1 311.2h0M142.3 313.2h0M146.6 313.7h0M166.2 307.8h0M180.7 314.8h0M146.1 316.3h0M177.8 308.2h0M156.1 314.0h0M166.0 312.0h0M143.7 313.1h0M129.2 312.4h0M155.2 313.8h0M167.4 317.6h0M124.4 313.3h0M147.0 316.7h0M151.2 308.8h0M156.9 312.3h0M131.6 313.2h0M139.5 308.1h0M161.9 315.6h0M175.1 308.5h0M149.5 320.2h0M162.7 313.6h0M150.5 320.2h0M154.5 309.5h0M142.1 317.3h0M144.5 318.7h0M139.3 316.1h0M149.4 310.9h0M164.6 309.5h0M150.8 315.8h0M157.8 318.7h0M138.3 310.9h0M158.7 313.3h0M126.5 312.9h0M142.8 311.2h0M120.5 308.9h0M156.4 312.9h0M151.0 309.2h0M134.1 319.0h0M149.3 310.1h0M125.1 318.0h0M134.2 320.4h0M142.1 319.1h0M123.7 309.8h0M163.6 310.8h0M138.0 312.0h0M163.3 310.9h0M145.7 307.8h0M152.6 314.0h0M134.2 316.5h0M143.3 312.6h0M141.6 309.2h0M151.5 318.7h0M168.6 315.7h0M139.5 308.4h0M145.5 316.2h0M153.4 310.5h0M160.9 314.9h0M146.3 316.6h0M142.2 311.5h0M139.2 308.4h0M148.1 317.0h0M151.6 310.7h0M137.7 312.1h0M143.4 311.3h0M159.4 319.7h0M147.6 312.6h0M139.4 316.4h0M158.6 320.0h0M158.7 317.2h0M157.2 308.1h0M158.0 312.7h0M142.0 316.2h0M151.1 312.7h0M152.7 314.1h0M149.8 318.4h0M121.6 314.5h0M147.7 310.3h0M153.3 309.2h0M155.4 316.6h0M143.5 315.1h0M148.5 312.8h0M120.9 315.6h0M125.6 311.5h0M144.6 308.1h0M172.4 311.2h0M174.3 309.7h0M131.1 311.1h0M157.8 316.1h0M166.9 311.8h0M143.4 308.4h0M118.5 316.6h0M169.4 317.1h0M142.6 309.9h0M142.1 314.1h0M173.7 312.0h0M155.1 318.1h0M160.7 308.1h0M172.1 317.0h0M145.9 311.5h0M133.5 314.2h0M160.0 318.9h0M148.2 310.5h0M159.4 318.2h0M154.3 310.1h0M136.9 318.4h0M148.8 308.4h0M143.4 316.1h0M145.0 315.7h0M147.9 318.7h0M153.8 320.2h0M151.7 311.2h0M129.4 312.9h0M158.1 313.8h0M127.1 312.8h0M181.9 314.6h0M137.2 311.0h0M147.7 307.8h0M168.8 309.1h0M145.7 314.6h0M129.6 312.5h0M127.2 310.8h0M152.9 313.9h0M154.9 307.6h0M161.1 316.0h0M152.8 319.8h0M141.4 320.1h0M155.8 319.7h0M170.3 316.0h0M136.7 312.2h0M142.4 317.6h0M167.5 318.5h0M177.0 313.4h0M162.4 308.0h0M153.2 315.4h0M159.5 310.8h0M168.7 308.3h0M155.6 313.2h0M142.6 310.3h0M138.2 315.9h0M150.4 310.9h0M151.3 309.4h0M156.0 314.1h0M139.8 308.1h0M165.5 315.8h0M117.1 312.6h0M133.9 319.8h0M130.1 308.6h0M149.9 311.1h0M140.7 314.5h0M156.2 311.2h0M136.4 310.1h0M167.5 315.9h0M159.3 318.6h0M140.4 315.6h0M122.6 318.0h0M130.1 319.7h0M124.7 317.4h0M166.6 316.2h0M159.4 310.0h0M128.9 307.7h0M176.3 311.0h0M143.6 318.2h0M114.1 314.0h0M164.3 316.3h0M167.6 317.3h0M148.1 312.4h0M134.5 317.4h0M166.6 310.7h0M140.4 317.2h0M147.7 311.6h0M155.1 312.5h0M152.6 317.9h0M141.1 311.7h0M132.4 307.9h0M159.3 318.2h0M114.8 317.3h0M153.0 319.9h0M152.1 312.6h0M155.9 308.4h0M142.5 312.9h0M151.3 315.3h0M160.0 309.2h0M132.3 318.3h0M148.8 316.8h0M153.8 318.4h0M129.1 317.1h0M133.8 317.8h0M171.8 308.5h0M163.6 316.9h0M136.9 313.4h0M158.9 317.3h0M154.2 310.7h0M169.2 308.4h0M165.2 311.1h0M143.6 316.0h0M168.8 315.7h0M172.6 309.7h0M138.8 316.5h0M129.6 313.5h0M151.9 315.0h0M138.4 308.5h0M147.8 309.7h0M130.5 310.2h0M159.6 317.3h0M156.6 316.2h0M155.0 313.8h0M131.6 318.2h0M122.7 318.3h0M128.9 310.5h0M155.5 310.7h0M121.0 319.8h0M157.9 308.6h0M174.7 318.6h0M138.6 317.2h0M145.3 313.4h0M162.8 315.5h0M161.8 310.3h0M138.8 311.6h0M145.4 311.0h0M149.9 312.4h0M144.1 312.0h0M156.8 309.9h0M153.1 317.4h0M167.7 311.3h0M122.5 311.7h0M165.9 311.9h0M160.4 309.4h0M146.1 317.9h0M154.4 320.0h0M162.8 314.1h0M152.7 319.3h0M144.4 308.1h0M152.4 311.6h0M137.7 310.3h0M128.5 316.8h0M135.0 319.8h0M136.6 308.1h0M151.0 309.5h0M160.1 315.2h0M151.8 316.2h0M170.0 310.1h0M146.9 307.8h0M138.5 315.3h0M137.3 317.7h0M134.7 308.2h0M143.6 316.0h0M168.9 309.6h0M126.2 314.5h0M156.5 315.9h0M148.1 313.0h0M160.9 319.8h0M141.3 312.6h0M159.3 318.2h0M141.0 317.3h0M158.0 320.3h0M164.2 318.1h0M159.8 317.3h0M187.1 316.2h0M132.6 308.8h0M142.5 312.4h0M141.6 318.1h0M153.3 313.5h0M199.6 308.4h0M136.6 313.8h0M181.4 310.0h0M195.5 308.3h0M164.0 318.1h0M123.2 319.2h0M130.8 309.7h0M189.7 316.1h0M151.5 311.4h0M167.3 311.2h0M165.9 312.3h0M193.9 315.8h0M189.7 319.0h0M167.3 309.9h0M161.8 316.3h0M182.8 316.2h0M134.5 319.3h0M143.4 319.4h0M128.9 315.0h0M138.1 313.8h0M124.1 319.1h0M179.6 315.3h0M153.5 317.5h0M201.5 319.9h0M152.2 313.3h0M166.3 311.3h0M148.4 308.2h0M176.9 317.8h0M173.6 314.8h0M151.9 310.8h0M167.3 319.3h0M141.9 319.7h0M146.6 314.1h0M135.8 312.8h0M179.8 312.5h0M137.3 319.2h0M133.6 311.0h0M181.4 311.5h0M156.3 319.1h0M126.7 313.3h0M132.3 313.6h0M144.3 309.0h0M132.0 311.7h0M155.7 319.2h0M129.6 315.5h0M129.2 317.0h0M175.5 312.3h0M196.5 308.3h0M188.5 320.1h0M148.1 311.6h0M170.0 309.1h0M152.9 311.7h0M199.5 314.4h0M164.6 314.0h0M169.1 316.0h0M202.1 311.8h0M187.0 317.7h0M161.0 319.9h0M134.4 318.2h0M149.5 312.9h0M125.4 312.2h0M197.4 312.7h0M154.2 313.3h0M174.5 311.4h0M162.8 320.2h0M141.1 314.5h0M164.8 313.1h0M167.0 314.6h0M157.2 308.8h0M157.5 312.3h0M166.1 318.0h0M136.0 319.3h0M155.5 313.9h0M147.5 309.7h0M140.4 319.5h0M161.4 316.7h0M107.2 319.8h0M126.0 311.6h0M153.2 311.5h0M193.8 319.1h0M171.3 309.5h0M140.4 318.8h0M191.6 308.3h0M161.3 311.8h0M142.2 319.2h0M154.9 317.2h0M193.0 318.0h0M176.5 319.1h0M141.2 317.0h0M133.1 310.1h0M171.6 319.6h0M130.7 318.8h0M146.5 314.9h0M174.0 313.6h0M133.4 312.5h0M139.1 317.5h0M162.8 314.8h0M151.2 308.5h0M188.0 317.6h0M157.6 313.3h0M171.8 311.5h0M103.4 315.6h0M71.8 314.1h0M108.4 316.3h0M52.4 317.4h0M103.0 318.2h0M61.4 317.1h0M104.1 317.0h0M55.5 314.4h0M114.0 316.3h0M101.6 311.3h0M100.7 319.5h0M100.3 312.8h0M55.9 317.4h0M80.4 319.2h0M86.5 315.5h0M70.0 310.4h0M86.2 312.8h0M113.0 319.7h0M64.2 319.2h0M93.9 319.4h0M201.9 313.1h0M193.1 317.9h0M188.3 310.9h0M202.9 318.9h0M183.7 318.4h0M182.3 312.1h0M193.3 311.7h0M200.5 312.6h0M187.8 310.0h0M186.3 312.8h0M195.6 313.2h0M187.8 311.0h0M207.1 317.4h0M190.7 312.1h0M193.7 315.0h0M210.6 312.0h0M181.3 314.7h0M186.2 317.3h0M184.9 319.4h0M199.6 310.1h0M212.5 312.5h0M204.4 316.3h0M197.9 313.3h0M209.8 316.9h0M186.2 310.8h0" stroke="#bdbdbd" stroke-width="2.2" stroke-linecap="round"/>
<path d="M124.5 301.7h0M138.8 305.6h0M143.9 304.4h0M146.8 295.1h0M148.7 296.6h0M137.3 302.0h0M147.9 303.0h0M136.8 295.0h0M134.8 302.1h0M152.5 291.9h0M167.4 305.4h0M144.4 274.7h0M122.2 303.4h0M142.3 296.8h0M150.2 266.6h0M148.7 292.5h0M167.4 304.8h0M134.9 299.1h0M146.0 294.1h0M139.4 304.7h0M174.6 304.4h0M152.3 265.7h0M144.8 305.2h0M136.9 304.0h0M162.3 303.5h0M132.3 294.2h0M160.0 277.1h0M164.6 303.6h0M158.2 300.9h0M151.9 292.7h0M150.1 299.5h0M161.3 302.4h0M146.8 299.6h0M162.0 292.9h0M128.0 304.2h0M169.5 304.3h0M148.2 300.6h0M167.3 302.3h0M153.6 278.8h0M143.5 292.7h0M148.8 284.5h0M141.8 295.1h0M160.9 298.2h0M132.5 292.8h0M129.0 302.6h0M162.7 299.3h0M152.7 263.3h0M139.5 286.4h0M157.6 296.1h0M130.5 304.1h0M150.9 304.4h0M136.7 282.5h0M160.4 304.2h0M148.9 304.0h0M153.1 295.7h0M131.3 277.8h0M133.0 303.7h0M127.3 303.4h0M142.3 304.7h0M149.7 283.5h0M133.4 280.6h0M143.2 292.4h0M147.5 295.3h0M154.3 292.4h0M147.3 297.9h0M152.2 301.7h0M165.5 295.3h0M125.2 303.4h0M165.7 300.8h0M140.9 267.6h0M149.2 287.4h0M137.7 303.5h0M152.9 301.8h0M148.1 274.7h0M165.3 295.7h0M128.5 297.1h0M163.8 301.1h0M156.9 304.7h0M162.0 282.7h0M140.8 305.0h0M162.7 277.4h0M152.7 281.9h0M159.2 299.9h0M151.3 300.7h0M158.6 298.7h0M163.3 279.9h0M146.1 302.6h0M122.8 301.7h0M151.4 274.7h0M159.8 301.7h0M139.6 302.1h0M143.2 302.5h0M127.3 301.8h0M152.8 260.1h0M134.9 299.1h0M160.9 294.1h0M160.5 282.1h0M166.7 276.9h0M167.3 301.1h0M166.2 304.3h0M150.8 298.8h0M177.1 299.3h0M131.5 279.4h0M139.3 279.0h0M169.7 288.2h0M142.2 285.2h0M134.2 299.1h0M142.4 286.5h0M159.6 290.4h0M163.9 296.6h0M158.5 295.2h0M143.2 297.3h0M148.2 279.0h0M158.9 305.5h0M147.4 279.2h0M155.2 276.9h0M135.3 288.3h0M165.5 299.0h0M151.8 298.9h0M149.3 295.9h0M142.4 299.2h0M115.8 304.8h0M168.5 301.6h0M143.9 287.5h0M149.7 294.6h0M149.6 282.9h0M161.0 291.3h0M147.4 304.7h0M168.9 282.3h0M160.2 304.2h0M145.4 289.7h0M142.4 300.6h0M184.7 299.0h0M136.5 305.6h0M143.6 297.2h0M133.5 303.8h0M152.5 304.1h0M149.2 281.6h0M166.4 296.1h0M136.2 300.8h0M129.9 301.1h0M175.0 302.1h0M114.6 296.6h0M149.6 304.0h0M130.7 286.1h0M157.7 301.8h0M144.5 269.6h0M159.8 304.0h0M144.1 294.9h0M153.5 303.2h0M133.7 296.0h0M149.0 300.3h0M152.2 276.6h0M152.2 297.9h0M165.4 305.2h0M155.2 250.0h0M184.2 294.0h0M131.0 301.7h0M155.2 293.7h0M150.2 268.2h0M157.9 302.0h0M170.4 303.2h0M178.3 299.7h0M169.0 291.9h0M139.8 287.1h0M137.3 300.8h0M135.0 303.8h0M149.2 299.1h0M127.1 303.7h0M146.5 302.5h0M131.0 289.8h0M145.3 302.2h0M149.1 298.7h0M166.4 300.6h0M149.0 294.9h0M144.8 305.2h0M158.3 299.2h0M137.7 301.3h0M163.4 284.7h0M149.2 302.6h0M156.8 300.2h0M145.5 305.5h0M150.2 301.1h0M144.5 300.9h0M141.7 296.6h0M150.8 294.7h0M159.6 293.7h0M129.8 300.3h0M150.3 294.2h0M164.2 297.7h0M145.2 304.7h0M166.3 302.1h0M159.4 293.4h0M134.7 301.7h0M142.3 293.9h0M168.9 299.0h0M159.6 272.8h0M156.8 304.3h0M151.8 288.1h0M116.3 301.8h0M149.3 296.8h0M125.0 301.9h0M148.3 288.5h0M149.1 304.4h0M148.1 300.7h0M156.5 292.3h0M151.6 282.2h0M132.1 303.8h0M143.8 301.1h0M163.3 299.1h0M175.5 291.9h0M134.2 302.8h0M155.3 284.0h0M164.4 292.8h0M157.1 294.4h0M148.5 293.7h0M166.7 295.7h0M178.3 304.9h0M153.5 304.4h0M139.1 299.7h0M132.0 297.1h0M161.7 303.0h0M170.1 301.1h0M148.0 293.6h0M151.3 281.0h0M148.0 294.5h0M180.2 300.5h0M139.8 290.6h0M161.2 297.7h0M144.1 287.9h0M161.6 302.1h0M158.3 299.9h0M164.9 287.8h0M148.4 305.4h0M142.9 290.5h0M144.1 297.8h0M145.5 262.7h0M161.5 286.4h0M150.6 303.6h0M126.6 302.3h0M153.6 283.4h0M145.7 285.2h0M127.7 296.8h0M146.1 301.4h0M149.6 303.9h0M141.9 297.5h0M142.3 301.4h0M134.6 296.9h0M135.1 293.3h0M177.7 301.5h0M130.5 303.5h0M157.2 289.9h0M157.0 299.5h0M150.6 289.2h0M124.0 294.5h0M166.9 305.3h0M141.6 290.7h0M174.5 287.1h0M144.0 301.1h0M133.3 304.0h0M162.4 282.3h0M146.5 285.6h0M153.3 288.9h0M162.4 294.4h0M143.3 272.4h0M131.5 301.9h0M150.5 283.0h0M163.6 295.4h0M148.4 302.5h0M146.0 292.3h0M171.7 305.2h0M162.5 287.8h0M150.7 294.2h0M179.7 298.6h0M144.0 304.5h0M155.1 305.5h0M142.3 280.3h0M159.3 300.6h0M165.5 297.6h0M148.9 298.6h0M134.1 289.9h0M155.1 303.0h0M148.6 302.6h0M155.9 296.2h0M137.7 285.0h0M155.2 299.3h0M142.6 288.1h0M163.2 301.7h0M151.8 286.4h0M147.8 304.5h0M152.4 287.1h0M160.1 299.7h0M173.0 299.2h0M148.4 296.0h0M152.9 278.2h0M142.2 290.1h0M151.4 305.3h0M136.0 285.3h0M146.6 303.3h0M173.6 305.5h0M151.1 304.2h0M146.3 292.4h0M144.7 297.8h0M137.3 304.6h0M157.2 279.5h0M145.5 292.6h0M140.2 301.1h0M174.2 297.6h0M165.8 301.3h0M154.5 299.1h0M144.0 283.1h0M168.1 294.7h0M179.9 304.4h0M150.6 291.6h0M154.9 284.0h0M157.7 293.7h0M172.6 303.6h0M156.9 282.5h0M156.1 303.3h0M148.0 288.2h0M144.9 287.8h0M156.1 300.0h0M152.2 247.5h0M147.1 298.5h0M140.6 285.2h0M148.8 304.3h0M145.6 287.5h0M153.3 305.1h0M159.1 272.7h0M162.5 297.5h0M171.0 302.1h0M133.0 281.5h0M171.7 303.4h0M132.3 304.0h0M154.4 275.2h0M149.7 295.7h0M158.4 293.9h0M136.1 305.5h0M155.1 268.1h0M139.9 265.1h0M168.7 305.6h0M145.4 257.4h0M179.3 295.1h0M142.7 300.6h0M148.1 297.6h0M146.9 304.3h0M157.4 301.1h0M147.5 303.5h0M148.3 271.7h0M141.5 299.9h0M149.3 280.9h0M164.2 295.6h0M144.0 290.4h0M151.8 299.4h0M143.6 297.5h0M145.6 302.8h0M155.2 304.4h0M153.5 290.9h0M132.5 304.7h0M156.0 298.8h0M148.8 303.9h0M152.9 288.3h0M179.0 293.5h0M150.8 282.8h0M128.5 295.5h0M159.4 269.9h0M138.9 291.8h0M140.1 303.2h0M141.3 301.3h0M156.6 283.1h0M126.1 301.5h0M140.6 303.2h0M136.9 301.4h0M157.8 295.7h0M152.0 274.2h0M148.8 284.6h0M148.3 303.7h0M139.1 286.8h0M132.1 302.4h0M160.6 295.4h0M140.7 303.8h0M149.1 294.7h0M141.9 291.9h0M131.9 296.7h0M133.0 292.5h0M154.6 298.9h0M178.6 304.2h0M149.9 261.4h0M163.2 276.0h0M146.8 297.6h0M148.2 297.3h0M155.9 295.9h0M134.7 300.7h0M148.4 297.7h0M142.4 305.1h0M153.9 274.4h0M123.4 293.6h0M164.6 304.2h0M163.1 303.6h0M152.7 282.9h0M152.6 273.4h0M147.7 285.9h0M145.4 303.0h0M153.0 302.1h0M129.1 305.1h0M136.4 305.1h0M142.0 303.0h0M177.9 296.1h0M143.4 305.1h0M178.3 303.8h0M140.9 294.0h0M100.4 303.0h0M147.0 299.5h0M150.6 294.3h0M164.5 272.2h0M138.4 296.4h0M155.7 303.3h0M137.0 302.3h0M154.8 303.8h0M156.8 295.3h0M138.1 293.7h0M162.8 299.8h0M156.2 297.0h0M138.2 299.5h0M164.0 300.5h0M141.5 290.5h0M158.4 305.2h0M142.5 305.2h0M139.4 296.9h0M163.2 285.1h0M176.2 301.8h0M164.6 303.5h0M158.3 292.1h0M145.4 300.4h0M182.7 304.5h0M152.7 303.7h0M157.4 301.4h0M141.1 301.3h0M132.8 304.1h0M156.9 302.2h0M159.8 299.1h0M138.0 294.4h0M143.2 302.9h0M150.2 302.6h0M151.6 304.6h0M136.8 289.4h0M126.7 304.9h0M141.2 303.5h0M154.0 304.7h0M159.3 300.9h0M144.2 299.5h0M161.9 266.9h0M141.6 268.5h0M142.5 304.8h0M150.0 298.5h0M151.6 287.3h0M153.9 305.4h0M141.5 286.5h0M138.2 300.5h0M131.1 292.4h0M158.4 289.4h0M139.4 299.7h0M150.0 304.3h0M163.9 302.5h0M150.8 304.1h0M128.6 304.7h0M146.9 301.1h0M153.4 302.2h0M170.2 290.7h0M154.9 296.4h0M141.7 287.8h0M168.0 261.2h0M160.4 280.7h0M154.0 278.5h0M136.8 302.1h0M130.8 303.5h0M148.5 303.7h0M153.0 300.9h0M144.5 284.2h0M156.2 298.4h0M147.6 298.2h0M129.3 294.8h0M174.2 301.3h0M122.8 303.5h0M165.2 302.7h0M142.3 300.2h0M116.7 303.8h0M138.6 292.2h0M166.9 303.3h0M132.9 288.4h0M146.1 271.2h0M168.5 299.8h0M133.5 304.8h0M157.5 291.1h0M127.1 305.1h0M148.1 304.2h0M144.9 305.1h0M148.5 304.8h0M138.1 304.0h0M166.0 296.2h0M137.2 272.3h0M168.0 303.1h0M148.3 301.1h0M137.7 300.2h0M156.3 300.1h0M159.1 303.4h0M149.8 290.7h0M144.3 297.7h0M178.5 305.2h0M151.9 281.4h0M136.7 296.4h0M172.1 290.0h0M156.5 270.1h0M150.9 304.0h0M138.2 288.5h0M163.0 296.6h0M143.4 303.5h0M145.1 303.0h0M143.7 304.5h0M132.0 296.8h0M181.3 304.3h0M155.5 301.1h0M159.7 280.9h0M141.7 299.3h0M161.2 271.7h0M117.9 286.9h0M142.4 300.6h0M116.7 292.1h0M153.9 304.8h0M154.1 260.3h0M155.3 283.0h0M131.9 295.9h0M149.3 302.0h0M146.5 301.5h0M154.0 304.9h0M164.5 293.0h0M140.6 304.8h0M161.6 303.1h0M160.1 301.4h0M155.0 253.1h0M143.3 277.9h0M144.9 272.8h0M144.8 293.3h0M138.0 288.0h0M138.7 303.0h0M137.8 302.0h0M154.0 290.4h0M143.2 290.2h0M160.4 304.9h0M144.8 286.8h0M170.2 287.4h0M150.5 304.7h0M149.4 303.7h0M132.8 300.5h0M162.4 300.9h0M165.8 297.3h0M146.4 299.9h0M161.1 303.2h0M175.5 303.8h0M137.7 305.4h0M159.7 288.9h0M148.1 291.4h0M149.2 296.2h0M137.7 290.9h0M149.3 296.8h0M150.0 298.1h0M160.9 298.2h0M142.8 301.3h0M145.0 303.8h0M176.0 291.4h0M153.0 303.4h0M158.0 291.4h0M155.7 302.9h0M135.5 296.7h0M151.5 301.0h0M152.0 274.8h0M133.6 287.0h0M174.2 290.4h0M143.7 296.3h0M142.0 296.5h0M152.8 275.3h0M160.2 301.4h0M160.9 297.7h0M152.1 294.2h0M173.0 305.2h0M158.6 298.2h0M151.7 291.5h0M158.6 296.8h0M145.7 299.3h0M149.7 260.5h0M157.1 304.9h0M142.2 298.3h0M140.2 304.4h0M152.1 298.6h0M148.8 298.4h0M148.5 302.5h0M142.9 287.5h0M172.6 303.0h0M148.4 289.9h0M161.9 302.6h0M158.8 305.0h0M138.9 291.3h0M152.4 296.3h0M156.3 301.2h0M160.2 277.6h0M128.9 299.3h0M132.0 305.1h0M155.7 255.1h0M138.7 291.4h0M136.6 298.2h0M159.7 303.4h0M147.5 302.4h0M164.4 296.2h0M123.8 295.5h0M162.9 300.1h0M160.6 291.8h0M144.4 298.5h0M143.7 286.8h0M162.3 290.6h0M134.0 303.6h0M168.5 272.7h0M158.5 282.0h0M141.5 269.4h0M150.1 290.9h0M154.2 297.9h0M163.8 298.9h0M144.7 287.2h0M154.1 283.4h0M148.2 305.3h0M145.9 299.7h0M144.5 300.3h0M159.6 304.1h0M150.3 299.5h0M156.1 290.7h0M155.3 283.8h0M151.5 285.7h0M170.4 289.5h0M158.4 270.5h0M158.5 294.8h0M136.1 303.9h0M166.9 297.5h0M154.3 303.8h0M153.5 304.0h0M144.0 278.4h0M147.3 287.7h0M173.9 301.9h0M158.6 286.2h0M151.3 294.5h0M154.2 299.9h0M148.7 260.4h0M158.0 286.5h0M145.3 289.5h0M143.1 293.3h0M169.9 299.5h0M149.7 290.7h0M163.6 297.2h0M143.1 282.6h0M146.3 297.2h0M160.1 303.8h0M152.3 274.1h0M153.3 295.0h0M152.0 303.7h0M122.7 303.7h0M157.0 294.3h0M152.2 302.7h0M128.8 298.5h0M161.1 301.4h0M165.1 303.2h0M177.7 303.3h0M150.9 266.7h0M161.9 304.0h0M124.7 305.1h0M180.8 294.9h0M150.2 299.3h0M156.0 299.2h0M149.9 286.6h0M142.7 279.2h0M129.9 299.6h0M157.6 300.9h0M130.4 303.6h0M160.8 303.4h0M143.8 287.9h0M158.2 304.3h0M149.1 302.5h0M143.9 300.0h0M141.5 303.5h0M159.6 302.5h0M161.5 295.8h0M166.3 293.2h0M132.1 300.0h0M145.8 304.3h0M150.4 297.5h0M165.8 285.8h0M149.9 279.7h0M124.0 304.9h0M145.1 296.7h0M128.8 282.7h0M162.6 281.2h0M150.7 271.2h0M156.5 278.0h0M117.3 294.4h0M146.3 303.2h0M134.7 302.6h0M149.7 286.0h0M164.2 300.8h0M134.5 303.4h0M168.5 296.8h0M148.3 294.4h0M158.8 286.5h0M143.2 304.7h0M152.2 305.1h0M165.8 295.7h0M125.1 282.6h0M161.0 301.6h0M157.7 298.3h0M162.8 302.0h0M158.6 297.7h0M143.2 292.0h0M146.9 299.0h0M139.6 277.5h0M154.9 292.1h0M157.9 294.0h0M135.3 304.7h0M135.0 299.7h0M143.1 303.3h0M146.3 304.5h0M150.8 290.1h0M159.1 272.1h0M139.5 289.8h0M147.7 299.7h0M149.1 299.0h0M157.2 295.5h0M128.0 305.5h0M157.3 305.5h0M148.3 263.2h0M124.3 303.1h0M167.4 302.1h0M140.8 292.2h0M136.9 304.1h0M142.6 296.9h0M153.7 301.5h0M148.9 297.0h0M169.1 299.1h0M158.1 295.0h0M139.9 288.7h0M148.5 297.6h0M120.7 304.5h0M134.1 304.9h0M149.8 297.2h0M154.0 288.8h0M156.7 301.7h0M139.0 292.4h0M147.1 298.2h0M147.2 299.1h0M154.1 284.9h0M156.3 296.5h0M148.2 273.3h0M159.3 275.3h0M133.5 303.4h0M151.2 295.7h0M144.0 303.1h0M145.2 292.2h0M187.3 300.9h0M146.0 299.9h0M167.3 297.6h0M148.1 304.1h0M141.1 297.9h0M165.8 298.9h0M136.4 290.6h0M146.3 279.6h0M149.0 293.5h0M132.9 297.5h0M173.3 304.3h0M144.3 301.0h0M156.2 290.2h0M136.0 304.5h0M150.2 281.7h0M149.4 302.1h0M161.5 281.0h0M144.6 297.5h0M139.6 297.3h0M163.7 305.4h0M147.1 300.1h0M131.8 300.9h0M150.3 274.1h0M151.8 304.9h0M164.1 300.7h0M160.0 297.0h0M160.8 297.3h0M169.5 302.3h0M137.7 296.8h0M157.1 296.3h0M146.7 302.8h0M138.7 301.6h0M150.8 303.3h0M129.5 305.2h0M145.7 297.2h0M130.8 301.4h0M153.3 294.8h0M154.2 303.8h0M124.9 298.0h0M153.5 301.8h0M145.1 298.1h0M159.0 288.0h0M163.5 301.4h0M141.2 295.8h0M146.8 304.6h0M142.0 296.7h0M169.4 305.1h0M160.6 286.3h0M174.0 303.2h0M147.4 291.7h0M156.8 269.7h0M153.0 304.2h0M159.1 284.7h0M145.3 299.9h0M141.2 303.8h0M172.2 303.2h0M137.5 291.1h0M157.7 289.4h0M179.1 291.5h0M135.8 301.3h0M148.1 298.0h0M157.4 300.3h0M128.3 295.1h0M157.4 301.5h0M132.5 305.4h0M135.1 279.2h0M151.2 267.2h0M145.0 265.2h0M161.9 299.2h0M161.4 303.8h0M156.6 272.2h0M139.0 298.2h0M141.5 290.6h0M152.9 293.0h0M121.3 305.2h0M156.0 292.6h0M160.1 303.3h0M168.1 300.3h0M149.0 293.9h0M136.5 298.8h0M159.4 273.0h0M133.3 304.6h0M157.3 290.7h0M149.1 283.4h0M126.1 291.9h0M149.4 298.9h0M153.9 297.5h0M158.1 297.9h0M156.7 291.2h0M126.9 301.7h0M156.5 300.7h0M141.7 300.5h0M144.0 296.0h0M159.9 284.4h0M138.6 280.5h0M167.5 304.7h0M156.4 304.7h0M126.6 299.8h0M141.3 295.9h0M137.0 303.9h0M142.4 294.4h0M155.0 300.5h0M164.3 302.7h0M170.8 297.9h0M147.7 293.4h0M158.3 284.4h0M143.4 295.7h0M148.4 301.3h0M147.7 292.0h0M164.5 305.3h0M137.2 281.3h0M144.1 296.1h0M141.3 271.7h0M155.8 305.6h0M153.7 293.5h0M158.8 301.1h0M121.8 298.8h0M141.8 292.7h0M144.5 290.8h0M154.3 298.0h0M136.1 298.4h0M159.0 303.2h0M154.2 263.3h0M151.1 299.6h0M111.7 303.7h0M129.7 305.2h0M164.3 303.7h0M147.4 304.4h0M134.3 294.4h0M133.0 289.9h0M144.7 298.4h0M152.7 300.6h0M124.6 299.5h0M147.4 284.0h0M156.1 268.0h0M164.7 303.8h0M146.4 274.4h0M129.2 303.3h0M154.5 301.8h0M130.9 303.7h0M166.1 302.4h0M156.0 295.1h0M123.4 298.4h0M146.3 294.2h0M142.6 298.3h0M119.5 304.9h0M170.4 300.3h0M149.0 269.2h0M148.1 266.2h0M155.0 298.1h0M145.5 301.3h0M143.3 278.3h0M154.6 285.6h0M141.4 296.3h0M163.2 298.0h0M115.0 282.8h0M135.2 295.8h0M145.3 293.9h0M136.5 299.1h0M185.8 259.6h0M143.1 300.9h0M197.1 295.8h0M158.7 303.2h0M129.0 273.7h0M176.6 301.7h0M127.1 296.3h0M122.0 290.2h0M142.6 300.8h0M161.1 268.7h0M93.6 301.5h0M122.9 298.4h0M157.3 235.7h0M164.1 299.2h0M157.0 302.9h0M196.4 285.7h0M102.1 279.2h0M145.3 299.6h0M159.6 301.1h0M164.4 304.5h0M170.0 297.1h0M76.0 272.0h0M107.5 280.5h0M112.0 283.0h0M100.0 290.0h0M124.5 277.0h0M117.0 303.0h0M110.0 303.5h0M186.0 303.0h0M183.0 290.0h0M179.0 278.0h0M175.0 262.0h0M157.0 237.5h0M156.0 245.0h0M158.0 251.0h0" stroke="#ff0000" stroke-width="2.4" stroke-linecap="round"/>
<path d="M159.3 344.1h0M133.1 329.3h0M160.5 332.8h0M136.0 349.4h0M165.0 324.0h0M146.3 327.7h0M145.0 326.6h0M144.4 326.1h0M160.8 336.6h0M146.8 330.5h0M162.3 327.9h0M139.6 325.0h0M135.0 326.9h0M148.3 325.6h0M146.8 332.1h0M168.5 324.2h0M138.9 323.5h0M150.8 331.1h0M139.7 330.0h0M151.4 323.0h0M145.6 333.3h0M144.9 323.5h0M144.7 341.4h0M165.2 337.5h0M156.7 322.7h0M134.0 325.4h0M158.6 325.2h0M147.7 329.4h0M162.3 331.4h0M143.1 323.4h0M150.8 335.7h0M152.1 333.1h0M137.9 324.7h0M137.6 323.6h0M142.2 343.9h0M146.3 336.8h0M147.6 323.8h0M146.5 326.0h0M150.8 324.3h0M154.7 325.9h0M148.9 328.1h0M159.8 344.9h0M144.9 326.9h0M171.9 327.4h0M140.8 324.5h0M163.2 334.7h0M150.0 326.8h0M144.8 327.2h0M136.5 329.3h0M144.8 336.8h0M148.1 331.1h0M150.0 333.1h0M165.9 331.8h0M146.2 337.8h0M150.8 336.0h0M157.7 322.9h0M139.7 326.2h0M145.0 335.8h0M139.2 330.4h0M139.6 328.8h0M157.1 336.5h0M135.9 335.3h0M141.2 327.5h0M151.6 324.1h0M149.8 334.5h0M160.2 332.2h0M137.9 350.0h0M146.9 322.5h0M131.8 325.7h0M155.1 326.0h0M128.3 325.0h0M143.8 326.5h0M151.0 366.8h0M164.3 333.4h0M145.0 326.3h0M153.2 346.8h0M136.7 331.2h0M152.6 328.0h0M146.6 366.5h0M155.9 322.6h0M155.0 332.3h0M164.8 328.8h0M136.5 325.3h0M141.8 323.0h0M148.1 328.2h0M154.2 322.9h0M144.2 326.3h0M142.4 332.9h0M168.8 322.6h0M150.1 332.4h0M164.1 335.0h0M162.1 333.1h0M148.5 328.4h0M147.3 342.4h0M145.1 331.1h0M145.9 324.0h0M147.9 324.2h0M133.1 325.6h0M142.4 344.3h0M156.9 337.7h0M160.2 334.8h0M137.6 329.1h0M127.3 323.1h0M153.3 335.8h0M153.3 343.7h0M152.7 323.0h0M157.5 338.9h0M147.0 336.7h0M150.0 374.6h0M147.9 324.2h0M162.1 343.3h0M140.7 325.9h0M166.9 325.2h0M146.6 326.9h0M147.6 339.9h0M145.2 326.2h0M156.9 326.4h0M148.6 328.0h0M164.9 334.8h0M144.8 324.4h0M144.8 332.6h0M152.5 347.8h0M148.8 346.9h0M155.6 332.9h0M179.3 332.1h0M157.5 336.4h0M138.5 334.0h0M163.1 327.1h0M147.1 325.7h0M148.5 334.3h0M153.5 327.5h0M143.4 325.4h0M127.8 322.6h0M155.8 340.4h0M146.8 331.1h0M163.6 333.8h0M148.6 329.3h0M120.5 326.9h0M169.9 324.4h0M155.9 339.4h0M153.3 326.7h0M139.8 330.6h0M147.4 348.1h0M160.8 350.3h0M132.3 338.5h0M154.5 344.9h0M154.7 336.4h0M143.9 352.8h0M148.2 366.5h0M158.1 350.1h0M135.3 322.8h0M114.1 325.3h0M149.6 354.8h0M158.9 324.9h0M152.1 324.2h0M154.6 337.3h0M139.2 325.5h0M160.9 333.7h0M142.7 324.3h0M154.5 338.9h0M154.0 335.1h0M152.1 330.5h0M143.1 325.0h0M137.0 325.2h0M138.9 324.0h0M152.6 342.2h0M137.9 324.0h0M155.5 329.3h0M155.3 339.7h0M131.9 326.4h0M152.5 337.1h0M133.1 324.5h0M142.1 362.4h0M154.7 323.1h0M111.9 328.4h0M150.8 329.5h0M154.8 329.6h0M131.9 325.8h0M116.4 329.1h0M144.9 344.3h0M157.8 323.7h0M142.3 328.3h0M138.6 322.6h0M159.3 331.4h0M149.8 334.0h0M147.7 332.5h0M145.3 327.3h0M138.8 329.6h0M144.5 346.5h0M139.0 329.6h0M150.1 336.5h0M150.2 328.7h0M149.1 326.1h0M161.0 327.6h0M131.3 326.2h0M150.7 338.4h0M154.2 344.3h0M140.6 341.7h0M165.7 327.6h0M167.8 323.8h0M154.1 327.6h0M133.6 324.0h0M162.2 325.9h0M161.6 323.8h0M130.4 325.9h0M151.2 334.8h0M140.7 342.0h0M151.2 335.5h0M157.0 324.5h0M163.7 327.7h0M157.8 338.1h0M157.9 333.9h0M159.9 324.4h0M158.2 324.5h0M148.1 336.5h0M163.1 323.3h0M175.3 323.8h0M141.9 339.8h0M160.9 335.1h0M136.0 339.6h0M155.6 338.8h0M144.6 328.2h0M143.4 333.1h0M149.4 331.0h0M149.0 338.7h0M150.4 323.1h0M138.0 335.7h0M149.4 328.2h0M148.7 322.9h0M159.1 326.4h0M159.8 322.4h0M134.5 327.4h0M159.0 352.8h0M141.7 324.7h0M165.6 325.5h0M128.2 329.4h0M134.9 335.6h0M143.3 337.6h0M151.0 327.0h0M138.2 323.5h0M162.8 328.8h0M141.2 339.7h0M146.1 347.1h0M146.7 326.6h0M133.0 323.9h0M157.1 328.5h0M142.1 323.1h0M167.7 324.7h0M162.2 324.3h0M160.7 323.5h0M154.7 325.5h0M153.5 328.0h0M136.9 327.1h0M169.4 323.1h0M156.9 324.3h0M168.2 324.2h0M148.9 329.4h0M132.7 326.2h0M129.1 326.1h0M158.9 343.4h0M149.0 335.9h0M168.2 325.7h0M142.5 335.3h0M157.9 325.3h0M158.5 326.0h0M161.8 325.8h0M159.9 336.3h0M169.4 326.1h0M142.6 322.7h0M159.8 326.2h0M149.6 326.7h0M147.8 332.5h0M154.4 338.0h0M145.4 334.6h0M145.1 335.2h0M146.9 354.7h0M135.9 322.5h0M137.5 326.4h0M155.3 328.3h0M169.6 325.8h0M149.6 335.0h0M166.3 327.1h0M161.9 326.9h0M151.2 328.3h0M173.6 333.1h0M138.7 324.8h0M151.1 334.3h0M139.3 325.8h0M142.2 342.9h0M154.6 332.9h0M139.6 352.6h0M145.8 336.5h0M156.5 334.7h0M144.5 324.1h0M133.7 326.3h0M122.2 323.4h0M139.8 341.1h0M149.8 325.0h0M122.1 334.7h0M152.3 328.5h0M147.7 329.3h0M144.2 324.3h0M147.0 324.6h0M139.1 340.6h0M154.4 329.5h0M153.6 333.4h0M163.0 323.7h0M153.1 356.5h0M147.6 333.9h0M161.3 337.1h0M130.8 323.9h0M151.2 331.0h0M164.9 326.2h0M153.4 326.1h0M158.6 324.7h0M141.7 323.4h0M154.0 326.7h0M153.1 331.9h0M153.8 333.7h0M148.6 325.4h0M147.1 330.4h0M143.2 339.4h0M142.8 334.7h0M150.9 329.3h0M162.6 324.0h0M132.3 324.1h0M158.6 332.8h0M151.0 372.8h0M165.4 335.0h0M154.5 333.8h0M157.8 322.4h0M159.0 330.4h0M140.4 336.3h0M145.1 327.0h0M152.6 342.8h0M125.1 326.3h0M148.9 374.1h0M170.5 325.8h0M155.5 325.0h0M150.2 331.0h0M162.7 324.8h0M139.7 340.7h0M138.2 324.3h0M151.1 324.9h0M166.5 323.3h0M145.1 329.3h0M143.3 325.1h0M138.7 324.7h0M142.3 357.4h0M157.2 348.6h0M165.7 328.4h0M147.7 343.5h0M133.5 325.2h0M149.4 323.1h0M133.6 333.9h0M131.1 327.4h0M158.7 323.2h0M137.8 334.2h0M142.1 327.2h0M147.4 324.1h0M163.5 327.1h0M154.6 336.6h0M166.0 325.4h0M158.8 325.2h0M160.0 336.6h0M157.9 333.8h0M156.8 343.8h0M148.2 334.3h0M140.1 331.3h0M148.5 324.2h0M149.8 330.2h0M135.0 325.8h0M143.0 328.6h0M144.8 328.6h0M140.5 324.8h0M134.6 323.9h0M145.9 324.2h0M152.3 332.3h0M134.8 327.4h0M159.0 331.1h0M151.0 362.1h0M159.0 323.9h0M146.5 336.6h0M143.0 345.2h0M139.7 324.5h0M170.9 327.2h0M142.9 334.4h0M147.0 349.7h0M151.0 335.0h0M148.4 325.6h0M135.0 324.1h0M141.0 355.8h0M154.8 329.0h0M150.5 330.5h0M146.6 323.4h0M144.0 324.4h0M146.2 332.2h0M160.6 332.1h0M143.0 338.6h0M128.8 330.2h0M152.7 331.3h0M159.8 340.6h0M145.2 326.4h0M147.9 336.7h0M175.5 326.4h0M175.5 325.1h0M155.6 322.6h0M144.7 337.9h0M136.7 341.6h0M149.4 350.4h0M146.8 333.5h0M149.0 328.8h0M128.2 330.0h0M147.3 327.6h0M163.2 335.9h0M158.6 324.9h0M161.3 327.4h0M144.5 337.5h0M139.9 355.1h0M176.6 324.0h0M163.5 337.9h0M171.1 331.2h0M161.2 324.4h0M129.7 328.2h0M149.1 347.8h0M148.5 327.8h0M165.1 323.5h0M170.4 327.9h0M144.1 327.8h0M140.5 338.5h0M168.8 326.6h0M162.6 326.9h0M145.4 337.7h0M154.3 325.3h0M148.7 367.7h0M146.7 328.7h0M156.1 326.6h0M147.5 323.1h0M131.3 330.0h0M149.1 339.5h0M158.2 338.1h0M164.7 323.3h0M161.7 324.4h0M178.3 322.6h0M156.4 324.7h0M148.9 323.1h0M148.4 353.1h0M143.7 329.1h0M178.7 325.4h0M141.7 351.9h0M146.4 326.3h0M154.8 324.9h0M161.6 324.5h0M135.5 345.4h0M157.4 330.9h0M158.5 324.7h0M167.4 334.8h0M140.3 339.4h0M117.1 325.0h0M176.3 332.3h0M149.4 337.6h0M146.0 328.4h0M146.8 323.5h0M153.5 344.5h0M142.5 335.0h0M140.9 330.9h0M155.9 333.0h0M152.7 330.4h0M143.0 325.7h0M131.9 327.8h0M151.9 326.9h0M127.2 326.2h0M164.1 323.4h0M143.7 325.6h0M148.3 328.6h0M147.6 353.1h0M156.7 335.0h0M159.8 331.0h0M166.6 326.3h0M143.9 329.6h0M156.5 340.6h0M152.5 334.6h0M153.6 366.8h0M145.4 346.9h0M120.2 331.6h0M129.2 337.8h0M160.3 335.7h0M160.5 345.1h0M153.6 333.1h0M146.8 331.6h0M144.4 329.0h0M162.4 325.9h0M155.9 324.4h0M153.7 334.1h0M151.2 336.4h0M138.2 337.1h0M151.2 322.6h0M154.2 348.8h0M147.6 337.7h0M162.8 337.7h0M134.7 323.4h0M148.2 337.7h0M132.8 323.0h0M176.5 323.0h0M151.5 338.8h0M156.1 344.5h0M143.3 343.8h0M164.6 335.6h0M152.0 322.5h0M146.7 332.3h0M144.6 328.5h0M133.8 322.8h0M130.8 323.3h0M155.1 330.0h0M152.8 324.9h0M154.7 347.1h0M154.2 330.4h0M165.4 323.6h0M155.4 326.5h0M172.7 329.3h0M143.5 323.7h0M169.5 325.6h0M153.7 327.0h0M126.9 325.5h0M145.8 333.3h0M123.1 331.3h0M156.8 325.3h0M165.3 323.1h0M139.7 325.9h0M133.2 326.6h0M152.5 322.7h0M159.6 324.7h0M143.0 324.5h0M138.5 324.4h0M150.5 333.0h0M163.3 330.3h0M140.7 324.4h0M136.3 324.5h0M160.7 326.2h0M158.6 322.5h0M152.8 326.0h0M160.8 333.1h0M159.1 330.2h0M154.0 331.6h0M147.8 342.5h0M144.7 336.6h0M150.5 325.8h0M136.6 344.9h0M146.8 346.9h0M146.3 331.3h0M137.7 324.7h0M144.6 333.4h0M143.2 343.8h0M187.1 323.6h0M161.9 329.5h0M157.9 322.7h0M144.7 344.7h0M147.9 347.2h0M145.4 333.7h0M165.3 323.9h0M154.7 328.2h0M150.4 324.0h0M149.9 323.6h0M143.3 337.1h0M154.7 324.2h0M149.2 331.5h0M145.4 338.2h0M146.9 330.2h0M174.4 324.4h0M170.1 322.7h0M161.4 331.6h0M127.8 330.1h0M143.1 329.8h0M167.1 325.3h0M144.2 345.9h0M150.6 329.9h0M140.5 325.4h0M151.3 335.3h0M135.4 323.8h0M152.8 332.6h0M138.3 325.2h0M129.2 323.9h0M145.2 325.8h0M143.1 328.9h0M163.9 326.1h0M142.8 332.4h0M148.4 356.2h0M151.7 331.6h0M160.2 345.4h0M155.4 330.5h0M152.0 322.9h0M147.3 323.0h0M157.8 343.6h0M155.0 323.4h0M162.0 330.1h0M164.3 322.8h0M142.6 344.7h0M137.5 326.5h0M134.3 329.0h0M129.9 324.3h0M142.4 331.6h0M155.5 330.2h0M158.3 326.4h0M140.6 333.3h0M147.8 337.8h0M136.7 326.1h0M151.8 324.8h0M161.2 326.1h0M154.3 331.5h0M149.1 352.0h0M147.9 343.8h0M130.0 327.5h0M147.6 327.8h0M150.0 328.0h0M151.5 350.4h0M163.4 323.9h0M146.8 327.0h0M148.1 331.2h0M136.8 324.7h0M166.2 326.5h0M138.2 324.2h0M133.3 327.6h0M164.0 346.8h0M148.9 327.7h0M125.0 323.8h0M161.6 338.3h0M154.2 350.9h0M147.3 343.3h0M155.5 334.7h0M121.2 325.0h0M146.8 328.9h0M141.7 328.9h0M132.3 324.7h0M132.1 322.6h0M140.5 323.6h0M179.5 325.7h0M167.9 334.2h0M142.2 336.0h0M147.4 345.4h0M151.8 323.7h0M145.3 328.0h0M154.4 326.4h0M132.5 331.1h0M145.5 326.3h0M139.9 327.1h0M153.2 324.2h0M152.0 361.7h0M147.5 324.8h0M153.6 338.6h0M147.5 328.3h0M120.0 322.4h0M147.7 327.1h0M135.4 324.7h0M151.7 333.3h0M147.4 341.8h0M149.7 350.5h0M142.9 342.5h0M165.4 330.4h0M146.9 327.3h0M147.0 325.5h0M164.4 330.7h0M130.4 331.4h0M154.9 331.5h0M144.6 357.9h0M160.1 323.2h0M147.4 333.9h0M148.1 331.0h0M152.3 328.0h0M169.1 323.7h0M140.9 329.8h0M150.5 325.5h0M131.1 334.6h0M148.9 330.3h0M135.5 336.8h0M173.0 324.9h0M176.5 330.0h0M149.9 340.0h0M135.5 330.2h0M165.6 325.0h0M154.2 340.4h0M146.8 323.1h0M158.7 335.8h0M142.6 340.9h0M139.9 340.1h0M147.7 339.4h0M160.5 325.8h0M141.1 336.3h0M166.0 322.6h0M155.3 329.6h0M137.0 351.9h0M161.0 322.5h0M150.7 327.7h0M141.8 324.2h0M147.2 323.6h0M151.3 324.0h0M165.3 327.4h0M140.4 326.0h0M160.3 324.0h0M161.6 327.6h0M170.8 332.1h0M162.1 330.9h0M137.8 323.2h0M166.3 327.2h0M143.9 347.8h0M146.4 325.5h0M148.7 326.9h0M144.0 347.0h0M162.6 324.7h0M155.0 341.7h0M140.5 325.0h0M150.2 348.5h0M157.8 334.4h0M142.3 342.1h0M137.0 335.7h0M150.0 325.3h0M129.9 329.1h0M142.7 333.4h0M137.1 333.0h0M133.1 326.9h0M159.5 329.8h0M145.1 332.5h0M140.6 327.6h0M142.3 327.9h0M145.1 335.0h0M138.3 323.9h0M131.1 330.6h0M146.3 322.6h0M161.8 333.2h0M163.1 327.1h0M151.3 346.2h0M181.3 326.8h0M143.9 328.0h0M161.2 325.2h0M126.3 335.6h0M148.5 335.8h0M145.1 329.6h0M128.3 334.5h0M152.5 329.7h0M154.0 330.7h0M135.5 333.1h0M153.9 354.0h0M151.8 341.6h0M135.3 322.5h0M145.9 347.1h0M157.5 332.3h0M161.5 342.4h0M153.8 325.4h0M142.4 329.1h0M159.1 328.0h0M138.6 338.4h0M161.4 343.0h0M168.0 326.8h0M136.8 328.8h0M140.5 325.0h0M159.0 325.7h0M154.5 331.8h0M169.4 323.0h0M138.1 330.1h0M167.5 324.7h0M151.5 325.0h0M144.2 359.4h0M143.7 324.4h0M148.8 323.6h0M149.3 323.7h0M156.1 324.2h0M153.2 347.3h0M159.0 343.8h0M152.1 358.7h0M153.8 329.3h0M154.5 325.9h0M151.6 323.6h0M171.4 330.6h0M149.7 325.6h0M141.9 326.5h0M145.5 325.1h0M177.0 323.4h0M141.0 332.7h0M153.7 331.3h0M148.7 357.2h0M183.3 328.0h0M137.8 328.2h0M150.7 328.6h0M136.4 323.6h0M149.8 324.6h0M149.7 324.3h0M146.8 327.5h0M154.7 325.8h0M156.2 325.9h0M144.6 323.7h0M156.7 335.4h0M174.8 322.8h0M140.5 325.4h0M137.1 339.2h0M137.5 343.3h0M149.7 326.9h0M155.3 336.9h0M151.8 327.5h0M159.1 327.4h0M153.3 323.2h0M157.4 324.7h0M144.9 324.0h0M142.6 324.8h0M150.2 337.6h0M161.4 333.0h0M142.4 327.2h0M151.6 324.6h0M143.8 330.6h0M136.7 349.3h0M139.6 329.0h0M149.1 333.9h0M160.1 326.5h0M154.2 330.7h0M144.9 335.2h0M170.4 326.4h0M133.7 329.7h0M148.7 336.5h0M137.6 329.9h0M173.8 325.4h0M160.1 331.4h0M141.3 351.6h0M148.7 324.1h0M162.4 324.1h0M152.6 335.6h0M133.9 323.6h0M161.4 341.7h0M149.0 326.3h0M156.2 323.8h0M150.5 334.9h0M147.4 329.4h0M165.4 322.8h0M151.0 326.9h0M144.4 343.9h0M136.7 334.3h0M159.5 345.0h0M160.2 323.9h0M153.8 325.4h0M140.1 335.8h0M143.8 340.4h0M161.3 323.0h0M135.0 322.4h0M144.4 332.1h0M156.5 322.6h0M160.9 347.8h0M141.4 322.9h0M164.3 327.6h0M142.2 326.3h0M162.3 338.2h0M145.0 326.1h0M131.5 340.4h0M150.6 366.9h0M157.2 325.5h0M150.3 323.3h0M167.0 329.0h0M150.6 327.9h0M160.7 324.1h0M138.2 324.1h0M154.2 343.1h0M136.1 322.8h0M132.4 324.7h0M147.5 328.7h0M148.9 332.6h0M148.1 366.1h0M151.4 323.4h0M149.6 325.1h0M151.2 329.8h0M136.3 331.0h0M140.6 336.3h0M151.6 324.0h0M165.3 323.6h0M146.2 352.1h0M140.9 322.9h0M164.6 328.0h0M152.4 350.4h0M158.5 327.1h0M149.4 340.8h0M132.5 331.5h0M148.8 329.4h0M172.7 325.3h0M171.8 338.3h0M146.9 322.5h0M155.0 326.8h0M165.9 331.3h0M130.9 333.9h0M125.5 326.2h0M145.3 364.9h0M147.3 324.9h0M145.6 341.9h0M160.3 325.7h0M161.2 333.1h0M166.8 322.9h0M156.7 323.8h0M146.2 366.0h0M141.2 322.7h0M163.3 327.1h0M138.5 323.3h0M150.4 329.0h0M146.9 337.7h0M148.4 324.9h0M149.8 343.0h0M139.4 325.9h0M165.3 326.1h0M134.2 323.5h0M113.0 326.0h0M136.0 334.9h0M150.1 327.4h0M130.0 327.1h0M181.9 323.0h0M168.6 359.5h0M157.3 324.9h0M86.6 347.5h0M190.5 336.1h0M164.7 350.0h0M165.9 355.7h0M113.9 343.3h0M106.9 364.3h0M138.2 345.1h0M124.3 333.7h0M130.4 335.3h0M141.2 331.4h0M112.1 323.6h0M175.6 322.5h0M108.6 336.5h0M168.1 344.1h0M82.0 326.0h0M111.0 323.0h0M118.0 325.0h0M55.0 338.0h0M120.0 345.0h0M152.0 375.0h0M151.0 380.0h0M154.0 386.0h0M180.0 357.0h0M196.0 334.0h0M205.0 331.0h0M218.0 339.0h0M92.0 352.0h0M100.0 355.0h0" stroke="#19b0f2" stroke-width="2.4" stroke-linecap="round"/>
<path d="M43.0,306.6H229.7M43.0,321.4H229.7M151.3,229.0V407.3" stroke="#a0a0a0" stroke-width="0.9"/>
<rect x="43.0" y="229.0" width="186.7" height="178.3" fill="none" stroke="#8c8c8c" stroke-width="0.9"/>
<path d="M120.2 229.0h1.8M149.5 229.0h1.8M160.8 229.0h1.8M129.2 229.0h1.8M112.6 229.0h1.8M131.3 229.0h1.8M134.9 229.0h1.8M110.6 229.0h1.8M159.4 229.0h1.8M125.6 229.0h1.8M159.9 229.0h1.8M148.1 229.0h1.8M129.1 229.0h1.8M146.0 229.0h1.8M131.9 229.0h1.8M121.6 229.0h1.8M132.5 229.0h1.8M148.7 229.0h1.8M118.6 229.0h1.8M157.3 229.0h1.8M136.2 229.0h1.8M111.4 229.0h1.8M123.4 229.0h1.8M113.4 229.0h1.8M156.8 229.0h1.8M157.4 229.0h1.8M138.3 229.0h1.8M122.5 229.0h1.8M132.1 229.0h1.8M147.8 229.0h1.8M147.0 229.0h1.8M122.8 229.0h1.8M135.7 229.0h1.8M160.6 229.0h1.8M151.1 229.0h1.8M155.7 229.0h1.8M132.2 229.0h1.8M148.3 229.0h1.8M186.2 229.0h1.8M165.2 229.0h1.8M166.8 229.0h1.8M178.5 229.0h1.8M167.8 229.0h1.8M184.4 229.0h1.8M185.7 229.0h1.8M169.5 229.0h1.8M181.5 229.0h1.8M175.0 229.0h1.8" stroke="#ff0000" stroke-width="1.6"/>
<path d="M179.6 407.3h1.8M177.1 407.3h1.8M170.4 407.3h1.8M189.7 407.3h1.8M173.7 407.3h1.8M145.4 407.3h1.8M176.1 407.3h1.8M174.3 407.3h1.8M145.8 407.3h1.8M182.7 407.3h1.8M149.7 407.3h1.8M180.3 407.3h1.8M186.3 407.3h1.8M184.3 407.3h1.8M186.6 407.3h1.8M171.8 407.3h1.8M181.8 407.3h1.8M154.3 407.3h1.8M188.9 407.3h1.8M186.1 407.3h1.8M192.6 407.3h1.8M148.5 407.3h1.8M158.5 407.3h1.8M141.5 407.3h1.8M159.5 407.3h1.8M192.0 407.3h1.8" stroke="#19b0f2" stroke-width="1.6"/>
<path d="M40.5,261.3H43.0M40.5,314.3H43.0M40.5,367.3H43.0M64.0,407.3V409.8M107.5,407.3V409.8M151.0,407.3V409.8M194.5,407.3V409.8" stroke="#777" stroke-width="0.8"/>
<text x="39.0" y="263.6" font-size="6.5" fill="#555" text-anchor="end">5</text>
<text x="39.0" y="316.6" font-size="6.5" fill="#555" text-anchor="end">0</text>
<text x="39.0" y="369.6" font-size="6.5" fill="#555" text-anchor="end">−5</text>
<text x="64.0" y="416.4" font-size="6.5" fill="#555" text-anchor="middle">−2</text>
<text x="107.5" y="416.4" font-size="6.5" fill="#555" text-anchor="middle">−1</text>
<text x="151.0" y="416.4" font-size="6.5" fill="#555" text-anchor="middle">0</text>
<text x="194.5" y="416.4" font-size="6.5" fill="#555" text-anchor="middle">1</text>
<text x="136" y="429" font-size="8.7" fill="#222" text-anchor="middle">Average Gene expression, logFC</text>
<text transform="translate(28.6,310.5) rotate(-90)" font-size="8.7" fill="#222" text-anchor="middle">logOR (distal PAS/proximal PAS)</text>
<text x="130.7" y="225.3" font-size="9.7" fill="#222" text-anchor="middle">Excitatory vs. Inhibitory</text>
<text x="79.2" y="264" font-size="7.8" fill="#ff1010" stroke="#ff1010" stroke-width="0.15" textLength="11" lengthAdjust="spacingAndGlyphs">622</text>
<text x="190.4" y="264" font-size="7.8" fill="#ff1010" stroke="#ff1010" stroke-width="0.15" textLength="10.6" lengthAdjust="spacingAndGlyphs">594</text>
<text x="99.1" y="370.9" font-size="7.8" fill="#19b0f2" stroke="#19b0f2" stroke-width="0.15" textLength="10.9" lengthAdjust="spacingAndGlyphs">743</text>
<text x="177.8" y="370.9" font-size="7.8" fill="#19b0f2" stroke="#19b0f2" stroke-width="0.15" textLength="10.4" lengthAdjust="spacingAndGlyphs">544</text>
<text x="156.4" y="235.5" font-size="6.9" fill="#111" stroke="#111" stroke-width="0.15" textLength="21.6" lengthAdjust="spacingAndGlyphs">HACD2</text>
<text x="135" y="267.8" font-size="6.9" fill="#111" stroke="#111" stroke-width="0.15" textLength="21" lengthAdjust="spacingAndGlyphs">RABL6</text>
<text x="130.5" y="290.5" font-size="6.9" fill="#111" stroke="#111" stroke-width="0.15" textLength="18.1" lengthAdjust="spacingAndGlyphs">MUM1</text>
<text x="123.8" y="364.5" font-size="6.9" fill="#111" stroke="#111" stroke-width="0.15" textLength="22.7" lengthAdjust="spacingAndGlyphs">SHISA6</text>
<text x="152.4" y="366.5" font-size="6.9" fill="#111" stroke="#111" stroke-width="0.15" textLength="15.2" lengthAdjust="spacingAndGlyphs">ST13</text>
<text x="142" y="406" font-size="6.9" fill="#111" stroke="#111" stroke-width="0.15" textLength="23" lengthAdjust="spacingAndGlyphs">PTPRR</text>
<text x="105.8" y="399.3" font-size="6.6" font-weight="bold" fill="#222">Down</text>
<text x="175.3" y="399.3" font-size="6.8" font-weight="bold" fill="#222">Up</text>
<path d="M127,396.5H173.5M127,396.5l2.5,-1.5M127,396.5l2.5,1.5M173.5,396.5l-2.5,-1.5M173.5,396.5l-2.5,1.5" stroke="#999" stroke-width="0.6" fill="none"/>
<rect x="57.2" y="355.2" width="34.1" height="47.6" fill="#fff" stroke="#c8c8c8" stroke-width="0.7"/>
<rect x="68.3" y="364.8" width="4.700000000000003" height="32.30000000000001" fill="#ff0000"/>
<rect x="80.5" y="358.2" width="4.5" height="38.900000000000034" fill="#1a9ff0"/>
<path d="M64.2,397.40000000000003H88.30000000000001" stroke="#bbb" stroke-width="0.4"/>
<text x="70.65" y="401.70000000000005" font-size="2.8" fill="#777" text-anchor="middle">edPAS</text>
<text x="82.75" y="401.70000000000005" font-size="2.8" fill="#777" text-anchor="middle">idPAS</text>
<text x="70.65" y="363.6" font-size="2.4" fill="#888" text-anchor="middle">622</text>
<text x="82.75" y="357.0" font-size="2.4" fill="#888" text-anchor="middle">743</text>
<rect x="193.6" y="355.2" width="34.9" height="47.6" fill="#fff" stroke="#c8c8c8" stroke-width="0.7"/>
<rect x="204.5" y="366" width="4.5" height="31.100000000000023" fill="#ff0000"/>
<rect x="217" y="368.6" width="4" height="28.5" fill="#1a9ff0"/>
<path d="M200.6,397.40000000000003H225.5" stroke="#bbb" stroke-width="0.4"/>
<text x="206.75" y="401.70000000000005" font-size="2.8" fill="#777" text-anchor="middle">edPAS</text>
<text x="219.0" y="401.70000000000005" font-size="2.8" fill="#777" text-anchor="middle">idPAS</text>
<text x="206.75" y="364.8" font-size="2.4" fill="#888" text-anchor="middle">594</text>
<text x="219.0" y="367.40000000000003" font-size="2.4" fill="#888" text-anchor="middle">544</text>
<rect x="350.8" y="219.6" width="192.2" height="5.2" fill="#f7f09a"/>
<path d="M324.6,225.2H543" stroke="#222" stroke-width="0.7"/>
<text x="326.0" y="223.7" font-size="5" fill="#333" font-family='"Liberation Serif", serif' textLength="19.3" lengthAdjust="spacingAndGlyphs">123491300</text>
<text x="352.9" y="223.7" font-size="5" fill="#333" font-family='"Liberation Serif", serif' textLength="19.3" lengthAdjust="spacingAndGlyphs">123491800</text>
<text x="379.7" y="223.7" font-size="5" fill="#333" font-family='"Liberation Serif", serif' textLength="19.3" lengthAdjust="spacingAndGlyphs">123492300</text>
<text x="406.6" y="223.7" font-size="5" fill="#333" font-family='"Liberation Serif", serif' textLength="19.3" lengthAdjust="spacingAndGlyphs">123492800</text>
<text x="433.4" y="223.7" font-size="5" fill="#333" font-family='"Liberation Serif", serif' textLength="19.3" lengthAdjust="spacingAndGlyphs">123493300</text>
<text x="460.2" y="223.7" font-size="5" fill="#333" font-family='"Liberation Serif", serif' textLength="19.3" lengthAdjust="spacingAndGlyphs">123493800</text>
<text x="487.1" y="223.7" font-size="5" fill="#333" font-family='"Liberation Serif", serif' textLength="19.3" lengthAdjust="spacingAndGlyphs">123494300</text>
<text x="514.0" y="223.7" font-size="5" fill="#333" font-family='"Liberation Serif", serif' textLength="19.3" lengthAdjust="spacingAndGlyphs">123494800</text>
<path d="M337.4,223.79999999999998V225.2M364.2,223.79999999999998V225.2M391.1,223.79999999999998V225.2M417.9,223.79999999999998V225.2M444.8,223.79999999999998V225.2M471.6,223.79999999999998V225.2M498.5,223.79999999999998V225.2M525.4,223.79999999999998V225.2" stroke="#222" stroke-width="0.6"/>
<path d="M277.5,227.3H324M277.5,253.6H324" stroke="#ddd" stroke-width="0.6"/>
<path d="M324.3,228V252.6M324.3,254V279" stroke="#555" stroke-width="0.6"/>
<text x="289" y="244.5" font-size="6.3" fill="#222">Ext</text>
<text x="289.3" y="269.8" font-size="6.3" fill="#222" textLength="7" lengthAdjust="spacingAndGlyphs">Int</text>
<text x="322" y="231" font-size="4.8" fill="#444" text-anchor="end" font-family='"Liberation Serif", serif'>2.60</text>
<text x="322" y="254.5" font-size="4.8" fill="#444" text-anchor="end" font-family='"Liberation Serif", serif'>0</text>
<text x="322" y="258" font-size="4.8" fill="#444" text-anchor="end" font-family='"Liberation Serif", serif'>1.38</text>
<text x="322" y="280.5" font-size="4.8" fill="#444" text-anchor="end" font-family='"Liberation Serif", serif'>0</text>
<path d="M345.2,252.6 L347.1,246.3 L350.3,236.7 L352.8,230.4 L354.3,228.5 L356.6,230.1 L360.5,231 L364.3,234.2 L368.1,236.7 L371.9,241.2 L375.7,245 L379.5,249.5 L383.4,251.4 L385.9,252.6 Z" fill="#1bb596"/>
<rect x="385.5" y="251.7" width="14.4" height="1" fill="#8ee0d8"/>
<path d="M455.8,253 L458.5,251.4 L461.7,247.7 L464.9,244 L467.5,242.4 L470.7,241.5 L473.4,242.6 L476.5,245 L479.7,247.5 L482.9,249.8 L486.1,251.7 L491.4,253 Z" fill="#1bb596"/>
<rect x="531" y="251.8" width="10" height="1.2" fill="#8ee0d8"/>
<path d="M459,279 L461.7,267.8 L463.8,260.4 L465.9,256.2 L468.6,254.9 L471.2,255.1 L473.9,256.2 L476,258.8 L478.1,263.6 L480.3,267.8 L482.9,272.6 L486.1,274.7 L489.3,275.5 L492.5,277.9 L495.6,279 Z" fill="#f45abe"/>
<rect x="371.7" y="277.6" width="8.9" height="1.4" fill="#f45abe"/>
<path d="M324,279.2H543" stroke="#444" stroke-width="0.8"/>
<path d="M324,284.6H543" stroke="#999" stroke-width="1.3"/>
<text x="517" y="283.2" font-size="3.6" fill="#666" font-family='"Liberation Serif", serif'>s71.1</text>
<text x="518" y="288.6" font-size="3.6" fill="#666" font-family='"Liberation Serif", serif'>chr3</text>
<text x="278.2" y="293.3" font-size="5" fill="#222" textLength="42.9" lengthAdjust="spacingAndGlyphs">GENCODE V23 genes</text>
<rect x="324.5" y="290.1" width="6.5" height="2.9" fill="#108c10"/>
<path d="M330,291.5H525.8" stroke="#108c10" stroke-width="0.8"/>
<path d="M333.9,290.2l-1.7,1.3l1.7,1.3zM337.3,290.2l-1.7,1.3l1.7,1.3zM340.8,290.2l-1.7,1.3l1.7,1.3zM344.2,290.2l-1.7,1.3l1.7,1.3zM347.7,290.2l-1.7,1.3l1.7,1.3zM351.1,290.2l-1.7,1.3l1.7,1.3zM354.5,290.2l-1.7,1.3l1.7,1.3zM358.0,290.2l-1.7,1.3l1.7,1.3zM361.4,290.2l-1.7,1.3l1.7,1.3zM364.9,290.2l-1.7,1.3l1.7,1.3zM368.3,290.2l-1.7,1.3l1.7,1.3zM371.7,290.2l-1.7,1.3l1.7,1.3zM375.2,290.2l-1.7,1.3l1.7,1.3zM378.6,290.2l-1.7,1.3l1.7,1.3zM382.1,290.2l-1.7,1.3l1.7,1.3zM385.5,290.2l-1.7,1.3l1.7,1.3zM388.9,290.2l-1.7,1.3l1.7,1.3zM392.4,290.2l-1.7,1.3l1.7,1.3zM395.8,290.2l-1.7,1.3l1.7,1.3zM399.3,290.2l-1.7,1.3l1.7,1.3zM402.7,290.2l-1.7,1.3l1.7,1.3zM406.1,290.2l-1.7,1.3l1.7,1.3zM409.6,290.2l-1.7,1.3l1.7,1.3zM413.0,290.2l-1.7,1.3l1.7,1.3zM416.5,290.2l-1.7,1.3l1.7,1.3zM419.9,290.2l-1.7,1.3l1.7,1.3zM423.3,290.2l-1.7,1.3l1.7,1.3zM426.8,290.2l-1.7,1.3l1.7,1.3zM430.2,290.2l-1.7,1.3l1.7,1.3zM433.7,290.2l-1.7,1.3l1.7,1.3zM437.1,290.2l-1.7,1.3l1.7,1.3zM440.5,290.2l-1.7,1.3l1.7,1.3zM444.0,290.2l-1.7,1.3l1.7,1.3zM447.4,290.2l-1.7,1.3l1.7,1.3zM450.9,290.2l-1.7,1.3l1.7,1.3zM454.3,290.2l-1.7,1.3l1.7,1.3zM457.7,290.2l-1.7,1.3l1.7,1.3zM461.2,290.2l-1.7,1.3l1.7,1.3zM464.6,290.2l-1.7,1.3l1.7,1.3zM468.1,290.2l-1.7,1.3l1.7,1.3zM471.5,290.2l-1.7,1.3l1.7,1.3zM474.9,290.2l-1.7,1.3l1.7,1.3zM478.4,290.2l-1.7,1.3l1.7,1.3zM481.8,290.2l-1.7,1.3l1.7,1.3zM485.3,290.2l-1.7,1.3l1.7,1.3zM488.7,290.2l-1.7,1.3l1.7,1.3zM492.1,290.2l-1.7,1.3l1.7,1.3zM495.6,290.2l-1.7,1.3l1.7,1.3zM499.0,290.2l-1.7,1.3l1.7,1.3zM502.5,290.2l-1.7,1.3l1.7,1.3zM505.9,290.2l-1.7,1.3l1.7,1.3zM509.3,290.2l-1.7,1.3l1.7,1.3zM512.8,290.2l-1.7,1.3l1.7,1.3zM516.2,290.2l-1.7,1.3l1.7,1.3zM519.7,290.2l-1.7,1.3l1.7,1.3zM523.1,290.2l-1.7,1.3l1.7,1.3z" fill="#109010"/>
<rect x="524" y="289.8" width="3" height="3" fill="#108c10"/>
<text x="527.5" y="292.8" font-size="3.4" fill="#108c10" font-family='"Liberation Serif", serif'>HACD2</text>
<rect x="350.8" y="295.3" width="180.2" height="2.9" fill="#1236b8"/>
<rect x="530.5" y="294.2" width="4.5" height="5" fill="#1236b8"/>
<path d="M532.8,295.4l-1.2,1.3l1.2,1.3" stroke="#fff" stroke-width="0.6" fill="none"/>
<path d="M535,296.7H543" stroke="#1236b8" stroke-width="0.7"/>
<path d="M536.9,295.3l-1.4,1.4l1.4,1.4M539.4,295.3l-1.4,1.4l1.4,1.4M541.9,295.3l-1.4,1.4l1.4,1.4" stroke="#1236b8" stroke-width="0.8" fill="none"/>
<text x="334" y="298.3" font-size="3.4" fill="#1236b8" font-family='"Liberation Serif", serif'>HACD2</text>
<path d="M350.2,298.8V303.2M351.7,298.8V303.2M497.1,298.8V303.2M498.9,298.8V303.2" stroke="#222" stroke-width="0.6"/>
<rect x="324.6" y="306.6" width="185.89999999999998" height="5.2" fill="#f7f09a"/>
<path d="M324.6,312.20000000000005H545" stroke="#222" stroke-width="0.7"/>
<text x="327.2" y="310.70000000000005" font-size="5" fill="#333" font-family='"Liberation Serif", serif' textLength="17.2" lengthAdjust="spacingAndGlyphs">42294200</text>
<text x="355.9" y="310.70000000000005" font-size="5" fill="#333" font-family='"Liberation Serif", serif' textLength="17.2" lengthAdjust="spacingAndGlyphs">42294700</text>
<text x="384.6" y="310.70000000000005" font-size="5" fill="#333" font-family='"Liberation Serif", serif' textLength="17.2" lengthAdjust="spacingAndGlyphs">42295200</text>
<text x="413.3" y="310.70000000000005" font-size="5" fill="#333" font-family='"Liberation Serif", serif' textLength="17.2" lengthAdjust="spacingAndGlyphs">42295700</text>
<text x="442.0" y="310.70000000000005" font-size="5" fill="#333" font-family='"Liberation Serif", serif' textLength="17.2" lengthAdjust="spacingAndGlyphs">42296200</text>
<text x="470.7" y="310.70000000000005" font-size="5" fill="#333" font-family='"Liberation Serif", serif' textLength="17.2" lengthAdjust="spacingAndGlyphs">42296700</text>
<text x="499.4" y="310.70000000000005" font-size="5" fill="#333" font-family='"Liberation Serif", serif' textLength="17.2" lengthAdjust="spacingAndGlyphs">42297200</text>
<text x="528.1" y="310.70000000000005" font-size="5" fill="#333" font-family='"Liberation Serif", serif' textLength="17.2" lengthAdjust="spacingAndGlyphs">42297700</text>
<path d="M338.6,310.8V312.20000000000005M367.3,310.8V312.20000000000005M396.0,310.8V312.20000000000005M424.7,310.8V312.20000000000005M453.4,310.8V312.20000000000005M482.1,310.8V312.20000000000005M510.8,310.8V312.20000000000005M539.5,310.8V312.20000000000005" stroke="#222" stroke-width="0.6"/>
<path d="M277.5,314.6H324M277.5,341.5H324" stroke="#ddd" stroke-width="0.6"/>
<path d="M324.3,315.4V340.8M324.3,342V367.5" stroke="#555" stroke-width="0.6"/>
<text x="289" y="330.5" font-size="6.3" fill="#222">Ext</text>
<text x="289.3" y="357" font-size="6.3" fill="#222" textLength="7" lengthAdjust="spacingAndGlyphs">Int</text>
<text x="322" y="318" font-size="4.8" fill="#444" text-anchor="end" font-family='"Liberation Serif", serif'>0.84</text>
<text x="322" y="342.5" font-size="4.8" fill="#444" text-anchor="end" font-family='"Liberation Serif", serif'>0</text>
<text x="322" y="345.5" font-size="4.8" fill="#444" text-anchor="end" font-family='"Liberation Serif", serif'>1.42</text>
<text x="322" y="369" font-size="4.8" fill="#444" text-anchor="end" font-family='"Liberation Serif", serif'>0</text>
<path d="M359.9,341.2 L359.9,339.8 L371.4,339.6 L371.4,338.7 L375.2,337.6 L377.9,334.9 L379,333.3 L380.6,334.4 L382.8,331.1 L385,328.4 L387.2,325.1 L388.8,321.8 L390.5,317.5 L392.1,319.1 L393.7,316.9 L394.8,316.1 L396.5,320.2 L398.1,325.1 L399.7,328.4 L401.9,332.2 L403.5,337.1 L404.1,338.7 L409,338.7 L409,341.2 Z" fill="#1bb596"/>
<path d="M494.5,341 L495.9,338 L498.1,335.8 L500.3,334.8 L501.9,333.7 L503.5,332 L504.6,334.8 L506.8,335.8 L509.5,337.5 L512.2,339.6 L513,341 Z" fill="#1bb596"/>
<path d="M469.3,367.6 L473.1,366 L481.3,365.1 L482.4,363 L484.5,362.4 L486.7,359.7 L490,357.5 L493.2,354.3 L494.8,352.1 L497,349.4 L499.2,345.6 L501.3,343.4 L503,342.9 L505.1,344.5 L506.8,347.8 L508.4,353.2 L510,357.5 L511.6,362.4 L513.3,366.2 L514.4,367.6 Z" fill="#f45abe"/>
<rect x="399" y="366.3" width="9.6" height="1.6" fill="#f45abe"/>
<path d="M324,368H544" stroke="#444" stroke-width="0.8"/>
<path d="M324,373.9H544" stroke="#999" stroke-width="1.3"/>
<text x="278.2" y="383.6" font-size="5" fill="#222" textLength="42.9" lengthAdjust="spacingAndGlyphs">GENCODE V23 genes</text>
<path d="M325,380.7H450" stroke="#2050d8" stroke-width="0.8"/>
<path d="M325.3,379.2l2,1.5l-2,1.5zM328.7,379.2l2,1.5l-2,1.5zM332.2,379.2l2,1.5l-2,1.5zM335.6,379.2l2,1.5l-2,1.5zM339.1,379.2l2,1.5l-2,1.5zM342.5,379.2l2,1.5l-2,1.5zM345.9,379.2l2,1.5l-2,1.5zM349.4,379.2l2,1.5l-2,1.5zM352.8,379.2l2,1.5l-2,1.5zM366.6,379.2l2,1.5l-2,1.5zM370.0,379.2l2,1.5l-2,1.5zM373.5,379.2l2,1.5l-2,1.5zM376.9,379.2l2,1.5l-2,1.5zM380.3,379.2l2,1.5l-2,1.5zM383.8,379.2l2,1.5l-2,1.5zM387.2,379.2l2,1.5l-2,1.5zM390.7,379.2l2,1.5l-2,1.5zM394.1,379.2l2,1.5l-2,1.5zM397.5,379.2l2,1.5l-2,1.5zM401.0,379.2l2,1.5l-2,1.5zM404.4,379.2l2,1.5l-2,1.5zM407.9,379.2l2,1.5l-2,1.5zM411.3,379.2l2,1.5l-2,1.5zM414.7,379.2l2,1.5l-2,1.5zM418.2,379.2l2,1.5l-2,1.5zM421.6,379.2l2,1.5l-2,1.5zM425.1,379.2l2,1.5l-2,1.5zM428.5,379.2l2,1.5l-2,1.5zM431.9,379.2l2,1.5l-2,1.5zM435.4,379.2l2,1.5l-2,1.5zM438.8,379.2l2,1.5l-2,1.5zM442.3,379.2l2,1.5l-2,1.5zM445.7,379.2l2,1.5l-2,1.5z" fill="#2050d8"/>
<rect x="356.6" y="378.2" width="7.3" height="5.1" rx="0.4" fill="#1236b8"/>
<path d="M358.3,379.5l1.2,1.2l-1.2,1.2M360.8,379.5l1.2,1.2l-1.2,1.2" stroke="#fff" stroke-width="0.55" fill="none"/>
<rect x="450" y="378.2" width="12.7" height="5.1" rx="0.4" fill="#1236b8"/>
<path d="M452,379.5l1.2,1.2l-1.2,1.2M455,379.5l1.2,1.2l-1.2,1.2M458,379.5l1.2,1.2l-1.2,1.2" stroke="#fff" stroke-width="0.55" fill="none"/>
<rect x="462" y="379.1" width="49.3" height="3.2" fill="#1236b8"/>
<text x="512" y="382.0" font-size="3.6" fill="#3a6ad8" font-family='"Liberation Serif", serif'>ABCG1</text>
<path d="M325,386H450" stroke="#20a030" stroke-width="0.8"/>
<path d="M325.3,384.5l2,1.5l-2,1.5zM328.7,384.5l2,1.5l-2,1.5zM332.2,384.5l2,1.5l-2,1.5zM335.6,384.5l2,1.5l-2,1.5zM339.1,384.5l2,1.5l-2,1.5zM342.5,384.5l2,1.5l-2,1.5zM345.9,384.5l2,1.5l-2,1.5zM349.4,384.5l2,1.5l-2,1.5zM352.8,384.5l2,1.5l-2,1.5zM366.6,384.5l2,1.5l-2,1.5zM370.0,384.5l2,1.5l-2,1.5zM373.5,384.5l2,1.5l-2,1.5zM376.9,384.5l2,1.5l-2,1.5zM380.3,384.5l2,1.5l-2,1.5zM383.8,384.5l2,1.5l-2,1.5zM387.2,384.5l2,1.5l-2,1.5zM390.7,384.5l2,1.5l-2,1.5zM394.1,384.5l2,1.5l-2,1.5zM397.5,384.5l2,1.5l-2,1.5zM401.0,384.5l2,1.5l-2,1.5zM404.4,384.5l2,1.5l-2,1.5zM407.9,384.5l2,1.5l-2,1.5zM411.3,384.5l2,1.5l-2,1.5zM414.7,384.5l2,1.5l-2,1.5zM418.2,384.5l2,1.5l-2,1.5zM421.6,384.5l2,1.5l-2,1.5zM425.1,384.5l2,1.5l-2,1.5zM428.5,384.5l2,1.5l-2,1.5zM431.9,384.5l2,1.5l-2,1.5zM435.4,384.5l2,1.5l-2,1.5zM438.8,384.5l2,1.5l-2,1.5zM442.3,384.5l2,1.5l-2,1.5zM445.7,384.5l2,1.5l-2,1.5z" fill="#20a030"/>
<rect x="356.6" y="384.4" width="7.3" height="3.2" fill="#108010"/>
<rect x="450" y="384.4" width="61.3" height="3.2" fill="#108010"/>
<text x="512" y="387.3" font-size="3.6" fill="#108010" font-family='"Liberation Serif", serif'>ABCG1</text>
<path d="M325,391.3H450" stroke="#2050d8" stroke-width="0.8"/>
<path d="M325.3,389.8l2,1.5l-2,1.5zM328.7,389.8l2,1.5l-2,1.5zM332.2,389.8l2,1.5l-2,1.5zM335.6,389.8l2,1.5l-2,1.5zM339.1,389.8l2,1.5l-2,1.5zM342.5,389.8l2,1.5l-2,1.5zM345.9,389.8l2,1.5l-2,1.5zM349.4,389.8l2,1.5l-2,1.5zM352.8,389.8l2,1.5l-2,1.5zM366.6,389.8l2,1.5l-2,1.5zM370.0,389.8l2,1.5l-2,1.5zM373.5,389.8l2,1.5l-2,1.5zM376.9,389.8l2,1.5l-2,1.5zM380.3,389.8l2,1.5l-2,1.5zM383.8,389.8l2,1.5l-2,1.5zM387.2,389.8l2,1.5l-2,1.5zM390.7,389.8l2,1.5l-2,1.5zM394.1,389.8l2,1.5l-2,1.5zM397.5,389.8l2,1.5l-2,1.5zM401.0,389.8l2,1.5l-2,1.5zM404.4,389.8l2,1.5l-2,1.5zM407.9,389.8l2,1.5l-2,1.5zM411.3,389.8l2,1.5l-2,1.5zM414.7,389.8l2,1.5l-2,1.5zM418.2,389.8l2,1.5l-2,1.5zM421.6,389.8l2,1.5l-2,1.5zM425.1,389.8l2,1.5l-2,1.5zM428.5,389.8l2,1.5l-2,1.5zM431.9,389.8l2,1.5l-2,1.5zM435.4,389.8l2,1.5l-2,1.5zM438.8,389.8l2,1.5l-2,1.5zM442.3,389.8l2,1.5l-2,1.5zM445.7,389.8l2,1.5l-2,1.5z" fill="#2050d8"/>
<rect x="356.6" y="388.8" width="7.3" height="5.1" rx="0.4" fill="#1236b8"/>
<path d="M358.3,390.1l1.2,1.2l-1.2,1.2M360.8,390.1l1.2,1.2l-1.2,1.2" stroke="#fff" stroke-width="0.55" fill="none"/>
<rect x="450" y="388.8" width="12.7" height="5.1" rx="0.4" fill="#1236b8"/>
<path d="M452,390.1l1.2,1.2l-1.2,1.2M455,390.1l1.2,1.2l-1.2,1.2M458,390.1l1.2,1.2l-1.2,1.2" stroke="#fff" stroke-width="0.55" fill="none"/>
<rect x="462" y="389.7" width="49.3" height="3.2" fill="#1236b8"/>
<text x="512" y="392.6" font-size="3.6" fill="#3a6ad8" font-family='"Liberation Serif", serif'>ABCG1</text>
<path d="M325,396.3H450" stroke="#2050d8" stroke-width="0.8"/>
<path d="M325.3,394.8l2,1.5l-2,1.5zM328.7,394.8l2,1.5l-2,1.5zM332.2,394.8l2,1.5l-2,1.5zM335.6,394.8l2,1.5l-2,1.5zM339.1,394.8l2,1.5l-2,1.5zM342.5,394.8l2,1.5l-2,1.5zM345.9,394.8l2,1.5l-2,1.5zM349.4,394.8l2,1.5l-2,1.5zM352.8,394.8l2,1.5l-2,1.5zM366.6,394.8l2,1.5l-2,1.5zM370.0,394.8l2,1.5l-2,1.5zM373.5,394.8l2,1.5l-2,1.5zM376.9,394.8l2,1.5l-2,1.5zM380.3,394.8l2,1.5l-2,1.5zM383.8,394.8l2,1.5l-2,1.5zM387.2,394.8l2,1.5l-2,1.5zM390.7,394.8l2,1.5l-2,1.5zM394.1,394.8l2,1.5l-2,1.5zM397.5,394.8l2,1.5l-2,1.5zM401.0,394.8l2,1.5l-2,1.5zM404.4,394.8l2,1.5l-2,1.5zM407.9,394.8l2,1.5l-2,1.5zM411.3,394.8l2,1.5l-2,1.5zM414.7,394.8l2,1.5l-2,1.5zM418.2,394.8l2,1.5l-2,1.5zM421.6,394.8l2,1.5l-2,1.5zM425.1,394.8l2,1.5l-2,1.5zM428.5,394.8l2,1.5l-2,1.5zM431.9,394.8l2,1.5l-2,1.5zM435.4,394.8l2,1.5l-2,1.5zM438.8,394.8l2,1.5l-2,1.5zM442.3,394.8l2,1.5l-2,1.5zM445.7,394.8l2,1.5l-2,1.5z" fill="#2050d8"/>
<rect x="356.6" y="393.8" width="7.3" height="5.1" rx="0.4" fill="#1236b8"/>
<path d="M358.3,395.1l1.2,1.2l-1.2,1.2M360.8,395.1l1.2,1.2l-1.2,1.2" stroke="#fff" stroke-width="0.55" fill="none"/>
<rect x="450" y="393.8" width="12.7" height="5.1" rx="0.4" fill="#1236b8"/>
<path d="M452,395.1l1.2,1.2l-1.2,1.2M455,395.1l1.2,1.2l-1.2,1.2M458,395.1l1.2,1.2l-1.2,1.2" stroke="#fff" stroke-width="0.55" fill="none"/>
<rect x="462" y="394.7" width="49.3" height="3.2" fill="#1236b8"/>
<text x="512" y="397.6" font-size="3.6" fill="#3a6ad8" font-family='"Liberation Serif", serif'>ABCG1</text>
<path d="M325,401.8H450" stroke="#2050d8" stroke-width="0.8"/>
<path d="M325.3,400.3l2,1.5l-2,1.5zM328.7,400.3l2,1.5l-2,1.5zM332.2,400.3l2,1.5l-2,1.5zM335.6,400.3l2,1.5l-2,1.5zM339.1,400.3l2,1.5l-2,1.5zM342.5,400.3l2,1.5l-2,1.5zM345.9,400.3l2,1.5l-2,1.5zM349.4,400.3l2,1.5l-2,1.5zM352.8,400.3l2,1.5l-2,1.5zM366.6,400.3l2,1.5l-2,1.5zM370.0,400.3l2,1.5l-2,1.5zM373.5,400.3l2,1.5l-2,1.5zM376.9,400.3l2,1.5l-2,1.5zM380.3,400.3l2,1.5l-2,1.5zM383.8,400.3l2,1.5l-2,1.5zM387.2,400.3l2,1.5l-2,1.5zM390.7,400.3l2,1.5l-2,1.5zM394.1,400.3l2,1.5l-2,1.5zM397.5,400.3l2,1.5l-2,1.5zM401.0,400.3l2,1.5l-2,1.5zM404.4,400.3l2,1.5l-2,1.5zM407.9,400.3l2,1.5l-2,1.5zM411.3,400.3l2,1.5l-2,1.5zM414.7,400.3l2,1.5l-2,1.5zM418.2,400.3l2,1.5l-2,1.5zM421.6,400.3l2,1.5l-2,1.5zM425.1,400.3l2,1.5l-2,1.5zM428.5,400.3l2,1.5l-2,1.5zM431.9,400.3l2,1.5l-2,1.5zM435.4,400.3l2,1.5l-2,1.5zM438.8,400.3l2,1.5l-2,1.5zM442.3,400.3l2,1.5l-2,1.5zM445.7,400.3l2,1.5l-2,1.5z" fill="#2050d8"/>
<rect x="356.6" y="399.3" width="7.3" height="5.1" rx="0.4" fill="#1236b8"/>
<path d="M358.3,400.6l1.2,1.2l-1.2,1.2M360.8,400.6l1.2,1.2l-1.2,1.2" stroke="#fff" stroke-width="0.55" fill="none"/>
<rect x="450" y="399.3" width="12.7" height="5.1" rx="0.4" fill="#1236b8"/>
<path d="M452,400.6l1.2,1.2l-1.2,1.2M455,400.6l1.2,1.2l-1.2,1.2M458,400.6l1.2,1.2l-1.2,1.2" stroke="#fff" stroke-width="0.55" fill="none"/>
<rect x="462" y="400.2" width="49.3" height="3.2" fill="#1236b8"/>
<text x="512" y="403.1" font-size="3.6" fill="#3a6ad8" font-family='"Liberation Serif", serif'>ABCG1</text>
<path d="M325,407.1H450" stroke="#2050d8" stroke-width="0.8"/>
<path d="M325.3,405.6l2,1.5l-2,1.5zM328.7,405.6l2,1.5l-2,1.5zM332.2,405.6l2,1.5l-2,1.5zM335.6,405.6l2,1.5l-2,1.5zM339.1,405.6l2,1.5l-2,1.5zM342.5,405.6l2,1.5l-2,1.5zM345.9,405.6l2,1.5l-2,1.5zM349.4,405.6l2,1.5l-2,1.5zM352.8,405.6l2,1.5l-2,1.5zM366.6,405.6l2,1.5l-2,1.5zM370.0,405.6l2,1.5l-2,1.5zM373.5,405.6l2,1.5l-2,1.5zM376.9,405.6l2,1.5l-2,1.5zM380.3,405.6l2,1.5l-2,1.5zM383.8,405.6l2,1.5l-2,1.5zM387.2,405.6l2,1.5l-2,1.5zM390.7,405.6l2,1.5l-2,1.5zM394.1,405.6l2,1.5l-2,1.5zM397.5,405.6l2,1.5l-2,1.5zM401.0,405.6l2,1.5l-2,1.5zM404.4,405.6l2,1.5l-2,1.5zM407.9,405.6l2,1.5l-2,1.5zM411.3,405.6l2,1.5l-2,1.5zM414.7,405.6l2,1.5l-2,1.5zM418.2,405.6l2,1.5l-2,1.5zM421.6,405.6l2,1.5l-2,1.5zM425.1,405.6l2,1.5l-2,1.5zM428.5,405.6l2,1.5l-2,1.5zM431.9,405.6l2,1.5l-2,1.5zM435.4,405.6l2,1.5l-2,1.5zM438.8,405.6l2,1.5l-2,1.5zM442.3,405.6l2,1.5l-2,1.5zM445.7,405.6l2,1.5l-2,1.5z" fill="#2050d8"/>
<rect x="356.6" y="404.6" width="7.3" height="5.1" rx="0.4" fill="#1236b8"/>
<path d="M358.3,405.9l1.2,1.2l-1.2,1.2M360.8,405.9l1.2,1.2l-1.2,1.2" stroke="#fff" stroke-width="0.55" fill="none"/>
<rect x="450" y="404.6" width="12.7" height="5.1" rx="0.4" fill="#1236b8"/>
<path d="M452,405.9l1.2,1.2l-1.2,1.2M455,405.9l1.2,1.2l-1.2,1.2M458,405.9l1.2,1.2l-1.2,1.2" stroke="#fff" stroke-width="0.55" fill="none"/>
<rect x="462" y="405.5" width="49.3" height="3.2" fill="#1236b8"/>
<text x="512" y="408.4" font-size="3.6" fill="#3a6ad8" font-family='"Liberation Serif", serif'>ABCG1</text>
<path d="M325,412.4H450" stroke="#2050d8" stroke-width="0.8"/>
<path d="M325.3,410.9l2,1.5l-2,1.5zM328.7,410.9l2,1.5l-2,1.5zM332.2,410.9l2,1.5l-2,1.5zM335.6,410.9l2,1.5l-2,1.5zM339.1,410.9l2,1.5l-2,1.5zM342.5,410.9l2,1.5l-2,1.5zM345.9,410.9l2,1.5l-2,1.5zM349.4,410.9l2,1.5l-2,1.5zM352.8,410.9l2,1.5l-2,1.5zM366.6,410.9l2,1.5l-2,1.5zM370.0,410.9l2,1.5l-2,1.5zM373.5,410.9l2,1.5l-2,1.5zM376.9,410.9l2,1.5l-2,1.5zM380.3,410.9l2,1.5l-2,1.5zM383.8,410.9l2,1.5l-2,1.5zM387.2,410.9l2,1.5l-2,1.5zM390.7,410.9l2,1.5l-2,1.5zM394.1,410.9l2,1.5l-2,1.5zM397.5,410.9l2,1.5l-2,1.5zM401.0,410.9l2,1.5l-2,1.5zM404.4,410.9l2,1.5l-2,1.5zM407.9,410.9l2,1.5l-2,1.5zM411.3,410.9l2,1.5l-2,1.5zM414.7,410.9l2,1.5l-2,1.5zM418.2,410.9l2,1.5l-2,1.5zM421.6,410.9l2,1.5l-2,1.5zM425.1,410.9l2,1.5l-2,1.5zM428.5,410.9l2,1.5l-2,1.5zM431.9,410.9l2,1.5l-2,1.5zM435.4,410.9l2,1.5l-2,1.5zM438.8,410.9l2,1.5l-2,1.5zM442.3,410.9l2,1.5l-2,1.5zM445.7,410.9l2,1.5l-2,1.5z" fill="#2050d8"/>
<rect x="356.6" y="409.9" width="7.3" height="5.1" rx="0.4" fill="#1236b8"/>
<path d="M358.3,411.2l1.2,1.2l-1.2,1.2M360.8,411.2l1.2,1.2l-1.2,1.2" stroke="#fff" stroke-width="0.55" fill="none"/>
<rect x="450" y="409.9" width="12.7" height="5.1" rx="0.4" fill="#1236b8"/>
<path d="M452,411.2l1.2,1.2l-1.2,1.2M455,411.2l1.2,1.2l-1.2,1.2M458,411.2l1.2,1.2l-1.2,1.2" stroke="#fff" stroke-width="0.55" fill="none"/>
<rect x="462" y="410.8" width="49.3" height="3.2" fill="#1236b8"/>
<text x="512" y="413.7" font-size="3.6" fill="#3a6ad8" font-family='"Liberation Serif", serif'>ABCG1</text>
<path d="M325,417.4H450" stroke="#ff1010" stroke-width="0.8"/>
<path d="M325.3,415.9l2,1.5l-2,1.5zM328.7,415.9l2,1.5l-2,1.5zM332.2,415.9l2,1.5l-2,1.5zM335.6,415.9l2,1.5l-2,1.5zM339.1,415.9l2,1.5l-2,1.5zM342.5,415.9l2,1.5l-2,1.5zM345.9,415.9l2,1.5l-2,1.5zM349.4,415.9l2,1.5l-2,1.5zM352.8,415.9l2,1.5l-2,1.5zM366.6,415.9l2,1.5l-2,1.5zM370.0,415.9l2,1.5l-2,1.5zM373.5,415.9l2,1.5l-2,1.5zM376.9,415.9l2,1.5l-2,1.5zM380.3,415.9l2,1.5l-2,1.5zM383.8,415.9l2,1.5l-2,1.5zM387.2,415.9l2,1.5l-2,1.5zM390.7,415.9l2,1.5l-2,1.5zM394.1,415.9l2,1.5l-2,1.5zM397.5,415.9l2,1.5l-2,1.5zM401.0,415.9l2,1.5l-2,1.5zM404.4,415.9l2,1.5l-2,1.5zM407.9,415.9l2,1.5l-2,1.5zM411.3,415.9l2,1.5l-2,1.5zM414.7,415.9l2,1.5l-2,1.5zM418.2,415.9l2,1.5l-2,1.5zM421.6,415.9l2,1.5l-2,1.5zM425.1,415.9l2,1.5l-2,1.5zM428.5,415.9l2,1.5l-2,1.5zM431.9,415.9l2,1.5l-2,1.5zM435.4,415.9l2,1.5l-2,1.5zM438.8,415.9l2,1.5l-2,1.5zM442.3,415.9l2,1.5l-2,1.5zM445.7,415.9l2,1.5l-2,1.5z" fill="#ff1010"/>
<rect x="356.6" y="415.6" width="7.3" height="3.6" fill="#ff0000"/>
<rect x="450" y="415.8" width="61.3" height="3.2" fill="#ff0000"/>
<text x="512" y="418.7" font-size="3.6" fill="#ff3030" font-family='"Liberation Serif", serif'>ABCG1</text>
<path d="M325,422.8H357" stroke="#ff1010" stroke-width="0.8"/>
<path d="M325.3,421.3l2,1.5l-2,1.5zM328.7,421.3l2,1.5l-2,1.5zM332.2,421.3l2,1.5l-2,1.5zM335.6,421.3l2,1.5l-2,1.5zM339.1,421.3l2,1.5l-2,1.5zM342.5,421.3l2,1.5l-2,1.5zM345.9,421.3l2,1.5l-2,1.5zM349.4,421.3l2,1.5l-2,1.5zM352.8,421.3l2,1.5l-2,1.5z" fill="#ff1010"/>
<rect x="356.6" y="421.2" width="45.7" height="3.2" fill="#ff0000"/>
<text x="403" y="424.1" font-size="3.6" fill="#ff3030" font-family='"Liberation Serif", serif'>HKG1</text>
<path d="M510.5,421V430" stroke="#333" stroke-width="0.6"/>
<text x="3" y="14.8" font-size="15.5" font-weight="bold" fill="#000">a</text>
<text x="265.5" y="13.8" font-size="15.5" font-weight="bold" fill="#000">b</text>
<text x="2.8" y="220.5" font-size="15.5" font-weight="bold" fill="#000">c</text>
<text x="265" y="223.8" font-size="15.5" font-weight="bold" fill="#000">d</text>
</svg>
</body></html>
